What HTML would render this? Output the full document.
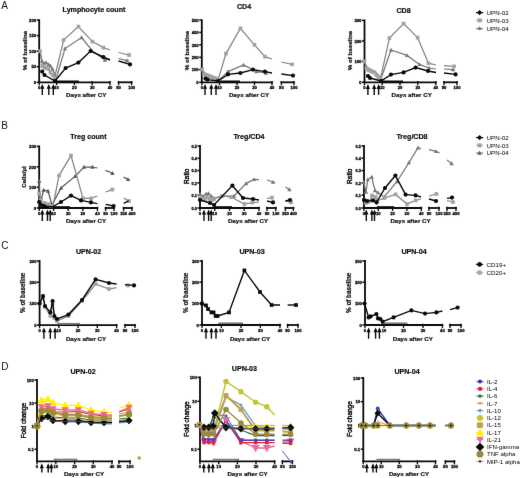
<!DOCTYPE html>
<html><head><meta charset="utf-8"><title>Figure</title>
<style>
html,body{margin:0;padding:0;background:#fff;}
body{width:520px;height:478px;overflow:hidden;}
svg{display:block;font-family:"Liberation Sans",sans-serif;}
</style></head><body>
<svg width="520" height="478" viewBox="0 0 520 478">
<defs><filter id="b" x="0" y="0" width="520" height="478" filterUnits="userSpaceOnUse" color-interpolation-filters="sRGB"><feConvolveMatrix order="3" kernelMatrix="0.0028 0.0470 0.0028 0.0470 0.8008 0.0470 0.0028 0.0470 0.0028" edgeMode="duplicate" preserveAlpha="true"/></filter></defs>
<rect width="520" height="478" fill="#fff"/>
<g filter="url(#b)">
<rect width="520" height="478" fill="#fff"/>
<text x="1.3" y="8.6" font-size="10" text-anchor="start" fill="#111">A</text>
<text x="1.3" y="129" font-size="10" text-anchor="start" fill="#111">B</text>
<text x="1.3" y="249.4" font-size="10" text-anchor="start" fill="#111">C</text>
<text x="1.3" y="369.8" font-size="10" text-anchor="start" fill="#111">D</text>
<line x1="39.2" y1="19.4" x2="39.2" y2="83.2" stroke="#0a0a0a" stroke-width="1.8"/>
<line x1="36.6" y1="20" x2="39.2" y2="20" stroke="#0a0a0a" stroke-width="1.5"/>
<text x="36.1" y="21.75" font-size="4.2" text-anchor="end" font-weight="bold" stroke="#0a0a0a" stroke-width="0.3" fill="#0a0a0a">200</text>
<line x1="36.6" y1="35.6" x2="39.2" y2="35.6" stroke="#0a0a0a" stroke-width="1.5"/>
<text x="36.1" y="37.35" font-size="4.2" text-anchor="end" font-weight="bold" stroke="#0a0a0a" stroke-width="0.3" fill="#0a0a0a">150</text>
<line x1="36.6" y1="51.2" x2="39.2" y2="51.2" stroke="#0a0a0a" stroke-width="1.5"/>
<text x="36.1" y="52.95" font-size="4.2" text-anchor="end" font-weight="bold" stroke="#0a0a0a" stroke-width="0.3" fill="#0a0a0a">100</text>
<line x1="36.6" y1="66.7" x2="39.2" y2="66.7" stroke="#0a0a0a" stroke-width="1.5"/>
<text x="36.1" y="68.45" font-size="4.2" text-anchor="end" font-weight="bold" stroke="#0a0a0a" stroke-width="0.3" fill="#0a0a0a">50</text>
<line x1="36.6" y1="82.3" x2="39.2" y2="82.3" stroke="#0a0a0a" stroke-width="1.5"/>
<text x="36.1" y="84.05" font-size="4.2" text-anchor="end" font-weight="bold" stroke="#0a0a0a" stroke-width="0.3" fill="#0a0a0a">0</text>
<line x1="38.3" y1="82.3" x2="110.9" y2="82.3" stroke="#0a0a0a" stroke-width="1.8"/>
<line x1="39.2" y1="81.1" x2="39.2" y2="85.2" stroke="#0a0a0a" stroke-width="1.35"/>
<text x="39.2" y="89.05" font-size="4.12" text-anchor="middle" font-weight="bold" stroke="#0a0a0a" stroke-width="0.3" fill="#0a0a0a">0</text>
<line x1="56.6" y1="81.1" x2="56.6" y2="85.2" stroke="#0a0a0a" stroke-width="1.35"/>
<text x="56.6" y="89.05" font-size="4.12" text-anchor="middle" font-weight="bold" stroke="#0a0a0a" stroke-width="0.3" fill="#0a0a0a">10</text>
<line x1="74.4" y1="81.1" x2="74.4" y2="85.2" stroke="#0a0a0a" stroke-width="1.35"/>
<text x="74.4" y="89.05" font-size="4.12" text-anchor="middle" font-weight="bold" stroke="#0a0a0a" stroke-width="0.3" fill="#0a0a0a">20</text>
<line x1="92.2" y1="81.1" x2="92.2" y2="85.2" stroke="#0a0a0a" stroke-width="1.35"/>
<text x="92.2" y="89.05" font-size="4.12" text-anchor="middle" font-weight="bold" stroke="#0a0a0a" stroke-width="0.3" fill="#0a0a0a">30</text>
<line x1="110" y1="81.1" x2="110" y2="85.2" stroke="#0a0a0a" stroke-width="1.35"/>
<text x="110" y="89.05" font-size="4.12" text-anchor="middle" font-weight="bold" stroke="#0a0a0a" stroke-width="0.3" fill="#0a0a0a">40</text>
<line x1="117.7" y1="82.3" x2="132.5" y2="82.3" stroke="#0a0a0a" stroke-width="1.8"/>
<line x1="118.6" y1="81.1" x2="118.6" y2="85.2" stroke="#0a0a0a" stroke-width="1.35"/>
<text x="118.6" y="89.05" font-size="4.12" text-anchor="middle" font-weight="bold" stroke="#0a0a0a" stroke-width="0.3" fill="#0a0a0a">90</text>
<line x1="131.6" y1="81.1" x2="131.6" y2="85.2" stroke="#0a0a0a" stroke-width="1.35"/>
<text x="131.6" y="89.05" font-size="4.12" text-anchor="middle" font-weight="bold" stroke="#0a0a0a" stroke-width="0.3" fill="#0a0a0a">100</text>
<line x1="56" y1="81.8" x2="79" y2="81.8" stroke="#0a0a0a" stroke-width="2.6"/>
<text x="94" y="11.7" font-size="7.1" text-anchor="middle" font-weight="bold" stroke="#111" stroke-width="0.22" fill="#111">Lymphocyte count</text>
<text x="26.6" y="50.5" font-size="6.2" text-anchor="middle" font-weight="bold" stroke="#111" stroke-width="0.22" transform="rotate(-90 26.6 50.5)" fill="#111">% of baseline</text>
<text x="86.2" y="96.8" font-size="6.2" text-anchor="middle" font-weight="bold" stroke="#111" stroke-width="0.22" fill="#111">Days after CY</text>
<line x1="42.3" y1="85.9" x2="42.3" y2="94.9" stroke="#0a0a0a" stroke-width="1.4"/>
<polygon fill="#0a0a0a" points="42.3,83.9 44.4,88.8 40.2,88.8"/>
<line x1="48.8" y1="85.9" x2="48.8" y2="94.9" stroke="#0a0a0a" stroke-width="1.4"/>
<polygon fill="#0a0a0a" points="48.8,83.9 50.9,88.8 46.7,88.8"/>
<line x1="53.3" y1="85.9" x2="53.3" y2="94.9" stroke="#0a0a0a" stroke-width="1.4"/>
<polygon fill="#0a0a0a" points="53.3,83.9 55.4,88.8 51.2,88.8"/>
<polyline fill="none" stroke="#787878" stroke-width="1.25" points="40,51.2 42,61 44,63.5 46,62.5 48.5,64.5 50.5,66 52.5,69 54.5,74 56,79 65,48.6 81.6,37.6 92.5,51 105,60 110,59"/>
<polyline fill="none" stroke="#787878" stroke-width="1.25" points="118.6,58.5 127,60.6 129,61"/>
<polygon fill="#787878" points="42,58.76 44.15,62.66 39.85,62.66"/>
<polygon fill="#787878" points="44,61.26 46.15,65.16 41.85,65.16"/>
<polygon fill="#787878" points="46,60.26 48.15,64.16 43.85,64.16"/>
<polygon fill="#787878" points="48.5,62.26 50.65,66.16 46.35,66.16"/>
<polygon fill="#787878" points="50.5,63.76 52.65,67.66 48.35,67.66"/>
<polygon fill="#787878" points="52.5,66.76 54.65,70.66 50.35,70.66"/>
<polygon fill="#787878" points="54.5,71.76 56.65,75.66 52.35,75.66"/>
<polygon fill="#787878" points="65,46.36 67.14,50.26 62.85,50.26"/>
<polygon fill="#787878" points="81.6,35.36 83.74,39.26 79.45,39.26"/>
<polygon fill="#787878" points="105,57.76 107.14,61.66 102.86,61.66"/>
<polygon fill="#787878" points="127,58.36 129.15,62.26 124.86,62.26"/>
<polyline fill="none" stroke="#858585" stroke-width="1.25" points="40,51.2 42.5,66 44.5,68 46.5,67.5 48.5,69 50.5,72.5 52.5,75 54.5,78 63.6,40 78.4,26.6 92.4,41.6 103.4,47.6 110,50"/>
<polyline fill="none" stroke="#858585" stroke-width="1.25" points="118.6,52.5 129,55"/>
<rect x="38.15" y="49.35" width="3.7" height="3.7" fill="#a2a2a2"/>
<rect x="40.65" y="64.15" width="3.7" height="3.7" fill="#a2a2a2"/>
<rect x="42.65" y="66.15" width="3.7" height="3.7" fill="#a2a2a2"/>
<rect x="44.65" y="65.65" width="3.7" height="3.7" fill="#a2a2a2"/>
<rect x="46.65" y="67.15" width="3.7" height="3.7" fill="#a2a2a2"/>
<rect x="48.65" y="70.65" width="3.7" height="3.7" fill="#a2a2a2"/>
<rect x="50.65" y="73.15" width="3.7" height="3.7" fill="#a2a2a2"/>
<rect x="52.65" y="76.15" width="3.7" height="3.7" fill="#a2a2a2"/>
<rect x="61.75" y="38.15" width="3.7" height="3.7" fill="#a2a2a2"/>
<rect x="76.55" y="24.75" width="3.7" height="3.7" fill="#a2a2a2"/>
<rect x="90.55" y="39.75" width="3.7" height="3.7" fill="#a2a2a2"/>
<rect x="101.55" y="45.75" width="3.7" height="3.7" fill="#a2a2a2"/>
<rect x="127.15" y="53.15" width="3.7" height="3.7" fill="#a2a2a2"/>
<polyline fill="none" stroke="#0a0a0a" stroke-width="1.4" points="42.2,71.5 44.5,75 55,81 65.6,68 78.4,62.6 90.6,51 103.4,57 110,60"/>
<polyline fill="none" stroke="#0a0a0a" stroke-width="1.4" points="118.6,61 130,64.4"/>
<circle cx="42.2" cy="71.5" r="2.08" fill="#0a0a0a"/>
<circle cx="44.5" cy="75" r="2.08" fill="#0a0a0a"/>
<circle cx="55" cy="81" r="2.08" fill="#0a0a0a"/>
<circle cx="65.6" cy="68" r="2.08" fill="#0a0a0a"/>
<circle cx="78.4" cy="62.6" r="2.08" fill="#0a0a0a"/>
<circle cx="90.6" cy="51" r="2.08" fill="#0a0a0a"/>
<circle cx="103.4" cy="57" r="2.08" fill="#0a0a0a"/>
<circle cx="130" cy="64.4" r="2.08" fill="#0a0a0a"/>
<line x1="201.8" y1="19.4" x2="201.8" y2="83.2" stroke="#0a0a0a" stroke-width="1.8"/>
<line x1="199.2" y1="20" x2="201.8" y2="20" stroke="#0a0a0a" stroke-width="1.5"/>
<text x="198.7" y="21.75" font-size="4.2" text-anchor="end" font-weight="bold" stroke="#0a0a0a" stroke-width="0.3" fill="#0a0a0a">500</text>
<line x1="199.2" y1="32.4" x2="201.8" y2="32.4" stroke="#0a0a0a" stroke-width="1.5"/>
<text x="198.7" y="34.15" font-size="4.2" text-anchor="end" font-weight="bold" stroke="#0a0a0a" stroke-width="0.3" fill="#0a0a0a">400</text>
<line x1="199.2" y1="44.8" x2="201.8" y2="44.8" stroke="#0a0a0a" stroke-width="1.5"/>
<text x="198.7" y="46.55" font-size="4.2" text-anchor="end" font-weight="bold" stroke="#0a0a0a" stroke-width="0.3" fill="#0a0a0a">300</text>
<line x1="199.2" y1="57.3" x2="201.8" y2="57.3" stroke="#0a0a0a" stroke-width="1.5"/>
<text x="198.7" y="59.05" font-size="4.2" text-anchor="end" font-weight="bold" stroke="#0a0a0a" stroke-width="0.3" fill="#0a0a0a">200</text>
<line x1="199.2" y1="69.6" x2="201.8" y2="69.6" stroke="#0a0a0a" stroke-width="1.5"/>
<text x="198.7" y="71.35" font-size="4.2" text-anchor="end" font-weight="bold" stroke="#0a0a0a" stroke-width="0.3" fill="#0a0a0a">100</text>
<line x1="199.2" y1="82.3" x2="201.8" y2="82.3" stroke="#0a0a0a" stroke-width="1.5"/>
<text x="198.7" y="84.05" font-size="4.2" text-anchor="end" font-weight="bold" stroke="#0a0a0a" stroke-width="0.3" fill="#0a0a0a">0</text>
<line x1="200.9" y1="82.3" x2="272.9" y2="82.3" stroke="#0a0a0a" stroke-width="1.8"/>
<line x1="201.8" y1="81.1" x2="201.8" y2="85.2" stroke="#0a0a0a" stroke-width="1.35"/>
<text x="201.8" y="89.05" font-size="4.12" text-anchor="middle" font-weight="bold" stroke="#0a0a0a" stroke-width="0.3" fill="#0a0a0a">0</text>
<line x1="219.5" y1="81.1" x2="219.5" y2="85.2" stroke="#0a0a0a" stroke-width="1.35"/>
<text x="219.5" y="89.05" font-size="4.12" text-anchor="middle" font-weight="bold" stroke="#0a0a0a" stroke-width="0.3" fill="#0a0a0a">10</text>
<line x1="237" y1="81.1" x2="237" y2="85.2" stroke="#0a0a0a" stroke-width="1.35"/>
<text x="237" y="89.05" font-size="4.12" text-anchor="middle" font-weight="bold" stroke="#0a0a0a" stroke-width="0.3" fill="#0a0a0a">20</text>
<line x1="254.5" y1="81.1" x2="254.5" y2="85.2" stroke="#0a0a0a" stroke-width="1.35"/>
<text x="254.5" y="89.05" font-size="4.12" text-anchor="middle" font-weight="bold" stroke="#0a0a0a" stroke-width="0.3" fill="#0a0a0a">30</text>
<line x1="272" y1="81.1" x2="272" y2="85.2" stroke="#0a0a0a" stroke-width="1.35"/>
<text x="272" y="89.05" font-size="4.12" text-anchor="middle" font-weight="bold" stroke="#0a0a0a" stroke-width="0.3" fill="#0a0a0a">40</text>
<line x1="280.5" y1="82.3" x2="294.9" y2="82.3" stroke="#0a0a0a" stroke-width="1.8"/>
<line x1="281.4" y1="81.1" x2="281.4" y2="85.2" stroke="#0a0a0a" stroke-width="1.35"/>
<text x="281.4" y="89.05" font-size="4.12" text-anchor="middle" font-weight="bold" stroke="#0a0a0a" stroke-width="0.3" fill="#0a0a0a">90</text>
<line x1="294" y1="81.1" x2="294" y2="85.2" stroke="#0a0a0a" stroke-width="1.35"/>
<text x="294" y="89.05" font-size="4.12" text-anchor="middle" font-weight="bold" stroke="#0a0a0a" stroke-width="0.3" fill="#0a0a0a">100</text>
<line x1="218" y1="81.8" x2="240" y2="81.8" stroke="#0a0a0a" stroke-width="2.6"/>
<text x="244" y="9.1" font-size="7.1" text-anchor="middle" font-weight="bold" stroke="#111" stroke-width="0.22" fill="#111">CD4</text>
<text x="189.4" y="50.5" font-size="6.2" text-anchor="middle" font-weight="bold" stroke="#111" stroke-width="0.22" transform="rotate(-90 189.4 50.5)" fill="#111">% of baseline</text>
<text x="249" y="96.8" font-size="6.2" text-anchor="middle" font-weight="bold" stroke="#111" stroke-width="0.22" fill="#111">Days after CY</text>
<line x1="205" y1="85.9" x2="205" y2="94.9" stroke="#0a0a0a" stroke-width="1.4"/>
<polygon fill="#0a0a0a" points="205,83.9 207.1,88.8 202.9,88.8"/>
<line x1="211.3" y1="85.9" x2="211.3" y2="94.9" stroke="#0a0a0a" stroke-width="1.4"/>
<polygon fill="#0a0a0a" points="211.3,83.9 213.4,88.8 209.2,88.8"/>
<line x1="216" y1="85.9" x2="216" y2="94.9" stroke="#0a0a0a" stroke-width="1.4"/>
<polygon fill="#0a0a0a" points="216,83.9 218.1,88.8 213.9,88.8"/>
<polyline fill="none" stroke="#787878" stroke-width="1.25" points="202,69.6 204,73 206,74.5 208,75 210,76 212,77 214,78 216,79 218.5,80.5 228,71.6 243.6,65 256.4,71.6 266,73"/>
<polygon fill="#787878" points="204,70.76 206.15,74.66 201.85,74.66"/>
<polygon fill="#787878" points="206,72.26 208.15,76.16 203.85,76.16"/>
<polygon fill="#787878" points="208,72.76 210.15,76.66 205.85,76.66"/>
<polygon fill="#787878" points="210,73.76 212.15,77.66 207.85,77.66"/>
<polygon fill="#787878" points="212,74.76 214.15,78.66 209.85,78.66"/>
<polygon fill="#787878" points="214,75.76 216.15,79.66 211.85,79.66"/>
<polygon fill="#787878" points="216,76.76 218.15,80.66 213.85,80.66"/>
<polygon fill="#787878" points="218.5,78.26 220.65,82.16 216.35,82.16"/>
<polygon fill="#787878" points="228,69.36 230.15,73.26 225.85,73.26"/>
<polygon fill="#787878" points="243.6,62.76 245.75,66.66 241.45,66.66"/>
<polygon fill="#787878" points="256.4,69.36 258.54,73.26 254.25,73.26"/>
<polygon fill="#787878" points="266,70.76 268.14,74.66 263.86,74.66"/>
<polyline fill="none" stroke="#858585" stroke-width="1.25" points="202,69.6 204,74 206,75 208,76 210,76.5 212,77 214,78 216,78.5 218,80 226,53.6 240.4,28.4 254.4,44.8 265,56.6 272,59"/>
<polyline fill="none" stroke="#858585" stroke-width="1.25" points="281.4,62 292,64.4"/>
<rect x="200.15" y="67.75" width="3.7" height="3.7" fill="#a2a2a2"/>
<rect x="202.15" y="72.15" width="3.7" height="3.7" fill="#a2a2a2"/>
<rect x="204.15" y="73.15" width="3.7" height="3.7" fill="#a2a2a2"/>
<rect x="206.15" y="74.15" width="3.7" height="3.7" fill="#a2a2a2"/>
<rect x="208.15" y="74.65" width="3.7" height="3.7" fill="#a2a2a2"/>
<rect x="210.15" y="75.15" width="3.7" height="3.7" fill="#a2a2a2"/>
<rect x="212.15" y="76.15" width="3.7" height="3.7" fill="#a2a2a2"/>
<rect x="214.15" y="76.65" width="3.7" height="3.7" fill="#a2a2a2"/>
<rect x="216.15" y="78.15" width="3.7" height="3.7" fill="#a2a2a2"/>
<rect x="224.15" y="51.75" width="3.7" height="3.7" fill="#a2a2a2"/>
<rect x="238.55" y="26.55" width="3.7" height="3.7" fill="#a2a2a2"/>
<rect x="252.55" y="42.95" width="3.7" height="3.7" fill="#a2a2a2"/>
<rect x="263.15" y="54.75" width="3.7" height="3.7" fill="#a2a2a2"/>
<rect x="290.15" y="62.55" width="3.7" height="3.7" fill="#a2a2a2"/>
<polyline fill="none" stroke="#0a0a0a" stroke-width="1.4" points="205.5,78.6 207.5,79.6 218,81 228,74.4 240.4,73 253,69.6 265,71.6 272,73"/>
<polyline fill="none" stroke="#0a0a0a" stroke-width="1.4" points="281.4,74 293,75.6"/>
<circle cx="205.5" cy="78.6" r="2.08" fill="#0a0a0a"/>
<circle cx="207.5" cy="79.6" r="2.08" fill="#0a0a0a"/>
<circle cx="218" cy="81" r="2.08" fill="#0a0a0a"/>
<circle cx="228" cy="74.4" r="2.08" fill="#0a0a0a"/>
<circle cx="240.4" cy="73" r="2.08" fill="#0a0a0a"/>
<circle cx="253" cy="69.6" r="2.08" fill="#0a0a0a"/>
<circle cx="265" cy="71.6" r="2.08" fill="#0a0a0a"/>
<circle cx="293" cy="75.6" r="2.08" fill="#0a0a0a"/>
<line x1="364.5" y1="19.6" x2="364.5" y2="83.2" stroke="#0a0a0a" stroke-width="1.8"/>
<line x1="361.9" y1="20.4" x2="364.5" y2="20.4" stroke="#0a0a0a" stroke-width="1.5"/>
<text x="361.4" y="22.15" font-size="4.2" text-anchor="end" font-weight="bold" stroke="#0a0a0a" stroke-width="0.3" fill="#0a0a0a">300</text>
<line x1="361.9" y1="41" x2="364.5" y2="41" stroke="#0a0a0a" stroke-width="1.5"/>
<text x="361.4" y="42.75" font-size="4.2" text-anchor="end" font-weight="bold" stroke="#0a0a0a" stroke-width="0.3" fill="#0a0a0a">200</text>
<line x1="361.9" y1="61.4" x2="364.5" y2="61.4" stroke="#0a0a0a" stroke-width="1.5"/>
<text x="361.4" y="63.15" font-size="4.2" text-anchor="end" font-weight="bold" stroke="#0a0a0a" stroke-width="0.3" fill="#0a0a0a">100</text>
<line x1="361.9" y1="82.3" x2="364.5" y2="82.3" stroke="#0a0a0a" stroke-width="1.5"/>
<text x="361.4" y="84.05" font-size="4.2" text-anchor="end" font-weight="bold" stroke="#0a0a0a" stroke-width="0.3" fill="#0a0a0a">0</text>
<line x1="363.6" y1="82.3" x2="436.7" y2="82.3" stroke="#0a0a0a" stroke-width="1.8"/>
<line x1="364.5" y1="81.1" x2="364.5" y2="85.2" stroke="#0a0a0a" stroke-width="1.35"/>
<text x="364.5" y="89.05" font-size="4.12" text-anchor="middle" font-weight="bold" stroke="#0a0a0a" stroke-width="0.3" fill="#0a0a0a">0</text>
<line x1="382.2" y1="81.1" x2="382.2" y2="85.2" stroke="#0a0a0a" stroke-width="1.35"/>
<text x="382.2" y="89.05" font-size="4.12" text-anchor="middle" font-weight="bold" stroke="#0a0a0a" stroke-width="0.3" fill="#0a0a0a">10</text>
<line x1="400" y1="81.1" x2="400" y2="85.2" stroke="#0a0a0a" stroke-width="1.35"/>
<text x="400" y="89.05" font-size="4.12" text-anchor="middle" font-weight="bold" stroke="#0a0a0a" stroke-width="0.3" fill="#0a0a0a">20</text>
<line x1="417.8" y1="81.1" x2="417.8" y2="85.2" stroke="#0a0a0a" stroke-width="1.35"/>
<text x="417.8" y="89.05" font-size="4.12" text-anchor="middle" font-weight="bold" stroke="#0a0a0a" stroke-width="0.3" fill="#0a0a0a">30</text>
<line x1="435.8" y1="81.1" x2="435.8" y2="85.2" stroke="#0a0a0a" stroke-width="1.35"/>
<text x="435.8" y="89.05" font-size="4.12" text-anchor="middle" font-weight="bold" stroke="#0a0a0a" stroke-width="0.3" fill="#0a0a0a">40</text>
<line x1="443.1" y1="82.3" x2="457.9" y2="82.3" stroke="#0a0a0a" stroke-width="1.8"/>
<line x1="444" y1="81.1" x2="444" y2="85.2" stroke="#0a0a0a" stroke-width="1.35"/>
<text x="444" y="89.05" font-size="4.12" text-anchor="middle" font-weight="bold" stroke="#0a0a0a" stroke-width="0.3" fill="#0a0a0a">90</text>
<line x1="457" y1="81.1" x2="457" y2="85.2" stroke="#0a0a0a" stroke-width="1.35"/>
<text x="457" y="89.05" font-size="4.12" text-anchor="middle" font-weight="bold" stroke="#0a0a0a" stroke-width="0.3" fill="#0a0a0a">100</text>
<line x1="381" y1="81.8" x2="403" y2="81.8" stroke="#0a0a0a" stroke-width="2.6"/>
<text x="403.6" y="12.6" font-size="7.1" text-anchor="middle" font-weight="bold" stroke="#111" stroke-width="0.22" fill="#111">CD8</text>
<text x="351.6" y="50.5" font-size="6.2" text-anchor="middle" font-weight="bold" stroke="#111" stroke-width="0.22" transform="rotate(-90 351.6 50.5)" fill="#111">% of baseline</text>
<text x="411.7" y="96.8" font-size="6.2" text-anchor="middle" font-weight="bold" stroke="#111" stroke-width="0.22" fill="#111">Days after CY</text>
<line x1="367.9" y1="86.1" x2="367.9" y2="94.9" stroke="#0a0a0a" stroke-width="1.4"/>
<polygon fill="#0a0a0a" points="367.9,84.1 370,89 365.8,89"/>
<line x1="374.2" y1="86.1" x2="374.2" y2="94.9" stroke="#0a0a0a" stroke-width="1.4"/>
<polygon fill="#0a0a0a" points="374.2,84.1 376.3,89 372.1,89"/>
<line x1="378.6" y1="86.1" x2="378.6" y2="94.9" stroke="#0a0a0a" stroke-width="1.4"/>
<polygon fill="#0a0a0a" points="378.6,84.1 380.7,89 376.5,89"/>
<polyline fill="none" stroke="#787878" stroke-width="1.25" points="364.4,61.4 366.5,67 368.5,69 370.5,70 372.5,71 374.5,72 376.5,74 378.5,76 381,78.5 391,50 407,55.4 419.4,64.4 429,68 436,69"/>
<polyline fill="none" stroke="#787878" stroke-width="1.25" points="444,69 453,69.6 455,70"/>
<polygon fill="#787878" points="366.5,64.76 368.64,68.66 364.36,68.66"/>
<polygon fill="#787878" points="368.5,66.76 370.64,70.66 366.36,70.66"/>
<polygon fill="#787878" points="370.5,67.76 372.64,71.66 368.36,71.66"/>
<polygon fill="#787878" points="372.5,68.76 374.64,72.66 370.36,72.66"/>
<polygon fill="#787878" points="374.5,69.76 376.64,73.66 372.36,73.66"/>
<polygon fill="#787878" points="376.5,71.76 378.64,75.66 374.36,75.66"/>
<polygon fill="#787878" points="378.5,73.76 380.64,77.66 376.36,77.66"/>
<polygon fill="#787878" points="381,76.26 383.14,80.16 378.86,80.16"/>
<polygon fill="#787878" points="391,47.76 393.14,51.66 388.86,51.66"/>
<polygon fill="#787878" points="407,53.16 409.14,57.06 404.86,57.06"/>
<polygon fill="#787878" points="419.4,62.16 421.54,66.06 417.25,66.06"/>
<polygon fill="#787878" points="429,65.76 431.14,69.66 426.86,69.66"/>
<polygon fill="#787878" points="453,67.36 455.14,71.26 450.86,71.26"/>
<polyline fill="none" stroke="#858585" stroke-width="1.25" points="364.4,61.4 366.5,68 368.5,70 370.5,71 372.5,72 374.5,72.5 376.5,75 378.5,77 380.5,78.5 389.4,38 403.6,23.6 417.6,37.6 428.4,63.2 436,65"/>
<polyline fill="none" stroke="#858585" stroke-width="1.25" points="444,65.6 454,66.4"/>
<rect x="362.55" y="59.55" width="3.7" height="3.7" fill="#a2a2a2"/>
<rect x="364.65" y="66.15" width="3.7" height="3.7" fill="#a2a2a2"/>
<rect x="366.65" y="68.15" width="3.7" height="3.7" fill="#a2a2a2"/>
<rect x="368.65" y="69.15" width="3.7" height="3.7" fill="#a2a2a2"/>
<rect x="370.65" y="70.15" width="3.7" height="3.7" fill="#a2a2a2"/>
<rect x="372.65" y="70.65" width="3.7" height="3.7" fill="#a2a2a2"/>
<rect x="374.65" y="73.15" width="3.7" height="3.7" fill="#a2a2a2"/>
<rect x="376.65" y="75.15" width="3.7" height="3.7" fill="#a2a2a2"/>
<rect x="378.65" y="76.65" width="3.7" height="3.7" fill="#a2a2a2"/>
<rect x="387.55" y="36.15" width="3.7" height="3.7" fill="#a2a2a2"/>
<rect x="401.75" y="21.75" width="3.7" height="3.7" fill="#a2a2a2"/>
<rect x="415.75" y="35.75" width="3.7" height="3.7" fill="#a2a2a2"/>
<rect x="426.55" y="61.35" width="3.7" height="3.7" fill="#a2a2a2"/>
<rect x="452.15" y="64.55" width="3.7" height="3.7" fill="#a2a2a2"/>
<polyline fill="none" stroke="#0a0a0a" stroke-width="1.4" points="368,76 370,78 381,81 391,74.6 403.6,72.4 415.6,67.6 428,71 436,72.5"/>
<polyline fill="none" stroke="#0a0a0a" stroke-width="1.4" points="444,73 455.6,74.4"/>
<circle cx="368" cy="76" r="2.08" fill="#0a0a0a"/>
<circle cx="370" cy="78" r="2.08" fill="#0a0a0a"/>
<circle cx="381" cy="81" r="2.08" fill="#0a0a0a"/>
<circle cx="391" cy="74.6" r="2.08" fill="#0a0a0a"/>
<circle cx="403.6" cy="72.4" r="2.08" fill="#0a0a0a"/>
<circle cx="415.6" cy="67.6" r="2.08" fill="#0a0a0a"/>
<circle cx="428" cy="71" r="2.08" fill="#0a0a0a"/>
<circle cx="455.6" cy="74.4" r="2.08" fill="#0a0a0a"/>
<line x1="476" y1="12.6" x2="483.2" y2="12.6" stroke="#0a0a0a" stroke-width="1.2"/>
<polygon fill="#0a0a0a" points="479.6,10.07 482.13,12.6 479.6,15.13 477.07,12.6"/>
<text x="486.6" y="14.8" font-size="6.2" text-anchor="start" transform="rotate(#0a0a0a 486.6 14.8)" fill="0.2">UPN-02</text>
<line x1="476" y1="20.4" x2="483.2" y2="20.4" stroke="#a2a2a2" stroke-width="0.9"/>
<rect x="477.6" y="18.4" width="4" height="4" fill="#a2a2a2"/>
<text x="486.6" y="22.6" font-size="6.2" text-anchor="start" transform="rotate(#0a0a0a 486.6 22.6)" fill="0.2">UPN-03</text>
<line x1="476" y1="28.4" x2="483.2" y2="28.4" stroke="#787878" stroke-width="0.9"/>
<polygon fill="#787878" points="479.6,26.1 481.8,30.1 477.4,30.1"/>
<text x="486.6" y="30.6" font-size="6.2" text-anchor="start" transform="rotate(#0a0a0a 486.6 30.6)" fill="0.2">UPN-04</text>
<line x1="39.2" y1="145.5" x2="39.2" y2="208.9" stroke="#0a0a0a" stroke-width="1.8"/>
<line x1="36.6" y1="146.4" x2="39.2" y2="146.4" stroke="#0a0a0a" stroke-width="1.5"/>
<text x="36.1" y="148.15" font-size="4.2" text-anchor="end" font-weight="bold" stroke="#0a0a0a" stroke-width="0.3" fill="#0a0a0a">300</text>
<line x1="36.6" y1="166.8" x2="39.2" y2="166.8" stroke="#0a0a0a" stroke-width="1.5"/>
<text x="36.1" y="168.55" font-size="4.2" text-anchor="end" font-weight="bold" stroke="#0a0a0a" stroke-width="0.3" fill="#0a0a0a">200</text>
<line x1="36.6" y1="187.2" x2="39.2" y2="187.2" stroke="#0a0a0a" stroke-width="1.5"/>
<text x="36.1" y="188.95" font-size="4.2" text-anchor="end" font-weight="bold" stroke="#0a0a0a" stroke-width="0.3" fill="#0a0a0a">100</text>
<line x1="36.6" y1="208" x2="39.2" y2="208" stroke="#0a0a0a" stroke-width="1.5"/>
<text x="36.1" y="209.75" font-size="4.2" text-anchor="end" font-weight="bold" stroke="#0a0a0a" stroke-width="0.3" fill="#0a0a0a">0</text>
<line x1="38.3" y1="208" x2="98.3" y2="208" stroke="#0a0a0a" stroke-width="1.8"/>
<line x1="39.2" y1="206.8" x2="39.2" y2="210.9" stroke="#0a0a0a" stroke-width="1.35"/>
<text x="39.2" y="214.75" font-size="4.12" text-anchor="middle" font-weight="bold" stroke="#0a0a0a" stroke-width="0.3" fill="#0a0a0a">0</text>
<line x1="53.6" y1="206.8" x2="53.6" y2="210.9" stroke="#0a0a0a" stroke-width="1.35"/>
<text x="53.6" y="214.75" font-size="4.12" text-anchor="middle" font-weight="bold" stroke="#0a0a0a" stroke-width="0.3" fill="#0a0a0a">10</text>
<line x1="68.2" y1="206.8" x2="68.2" y2="210.9" stroke="#0a0a0a" stroke-width="1.35"/>
<text x="68.2" y="214.75" font-size="4.12" text-anchor="middle" font-weight="bold" stroke="#0a0a0a" stroke-width="0.3" fill="#0a0a0a">20</text>
<line x1="82.8" y1="206.8" x2="82.8" y2="210.9" stroke="#0a0a0a" stroke-width="1.35"/>
<text x="82.8" y="214.75" font-size="4.12" text-anchor="middle" font-weight="bold" stroke="#0a0a0a" stroke-width="0.3" fill="#0a0a0a">30</text>
<line x1="97.4" y1="206.8" x2="97.4" y2="210.9" stroke="#0a0a0a" stroke-width="1.35"/>
<text x="97.4" y="214.75" font-size="4.12" text-anchor="middle" font-weight="bold" stroke="#0a0a0a" stroke-width="0.3" fill="#0a0a0a">40</text>
<line x1="104.7" y1="208" x2="114.9" y2="208" stroke="#0a0a0a" stroke-width="1.8"/>
<line x1="105.6" y1="206.8" x2="105.6" y2="210.9" stroke="#0a0a0a" stroke-width="1.35"/>
<text x="105.6" y="214.75" font-size="4.12" text-anchor="middle" font-weight="bold" stroke="#0a0a0a" stroke-width="0.3" fill="#0a0a0a">90</text>
<line x1="114" y1="206.8" x2="114" y2="210.9" stroke="#0a0a0a" stroke-width="1.35"/>
<text x="114" y="214.75" font-size="4.12" text-anchor="middle" font-weight="bold" stroke="#0a0a0a" stroke-width="0.3" fill="#0a0a0a">100</text>
<line x1="122.7" y1="208" x2="132.9" y2="208" stroke="#0a0a0a" stroke-width="1.8"/>
<line x1="123.6" y1="206.8" x2="123.6" y2="210.9" stroke="#0a0a0a" stroke-width="1.35"/>
<text x="123.6" y="214.75" font-size="4.12" text-anchor="middle" font-weight="bold" stroke="#0a0a0a" stroke-width="0.3" fill="#0a0a0a">350</text>
<line x1="132" y1="206.8" x2="132" y2="210.9" stroke="#0a0a0a" stroke-width="1.35"/>
<text x="132" y="214.75" font-size="4.12" text-anchor="middle" font-weight="bold" stroke="#0a0a0a" stroke-width="0.3" fill="#0a0a0a">400</text>
<line x1="52" y1="207.5" x2="70" y2="207.5" stroke="#0a0a0a" stroke-width="2.6"/>
<text x="88.4" y="138.7" font-size="7.1" text-anchor="middle" font-weight="bold" stroke="#111" stroke-width="0.22" fill="#111">Treg count</text>
<text x="26.2" y="177" font-size="6.1" text-anchor="middle" font-weight="bold" stroke="#111" stroke-width="0.22" transform="rotate(-90 26.2 177)" fill="#111">Cells/µl</text>
<text x="86" y="223.4" font-size="6.2" text-anchor="middle" font-weight="bold" stroke="#111" stroke-width="0.22" fill="#111">Days after CY</text>
<line x1="42.3" y1="211.6" x2="42.3" y2="220.9" stroke="#0a0a0a" stroke-width="1.4"/>
<polygon fill="#0a0a0a" points="42.3,209.6 44.4,214.5 40.2,214.5"/>
<line x1="47.5" y1="211.6" x2="47.5" y2="220.9" stroke="#0a0a0a" stroke-width="1.4"/>
<polygon fill="#0a0a0a" points="47.5,209.6 49.6,214.5 45.4,214.5"/>
<line x1="50.2" y1="211.6" x2="50.2" y2="220.9" stroke="#0a0a0a" stroke-width="1.4"/>
<polygon fill="#0a0a0a" points="50.2,209.6 52.3,214.5 48.1,214.5"/>
<polyline fill="none" stroke="#5a5a5a" stroke-width="1.25" points="39.2,181 40,205 43.6,190 48,191 52,205 61,188 75,176.4 84,167 92.4,167 97.4,168"/>
<polyline fill="none" stroke="#5a5a5a" stroke-width="1.25" points="105.6,170.4 112.4,173.3 114,174"/>
<polyline fill="none" stroke="#5a5a5a" stroke-width="1.25" points="123.6,177 128,179.4 129.4,180.2"/>
<polygon fill="#5a5a5a" points="39.2,178.76 41.35,182.66 37.05,182.66"/>
<polygon fill="#5a5a5a" points="43.6,187.76 45.75,191.66 41.45,191.66"/>
<polygon fill="#5a5a5a" points="48,188.76 50.15,192.66 45.85,192.66"/>
<polygon fill="#5a5a5a" points="61,185.76 63.15,189.66 58.85,189.66"/>
<polygon fill="#5a5a5a" points="75,174.16 77.14,178.06 72.86,178.06"/>
<polygon fill="#5a5a5a" points="84,164.76 86.14,168.66 81.86,168.66"/>
<polygon fill="#5a5a5a" points="92.4,164.76 94.55,168.66 90.26,168.66"/>
<polygon fill="#5a5a5a" points="112.4,171.06 114.55,174.96 110.26,174.96"/>
<polygon fill="#5a5a5a" points="128,177.16 130.15,181.06 125.86,181.06"/>
<polyline fill="none" stroke="#858585" stroke-width="1.25" points="39.2,193.6 41,200 43,204 45,203 47,205 49,204 51,206 53,206 59,175.6 71,155.6 83,198.4 91,198.4 97.4,196"/>
<polyline fill="none" stroke="#858585" stroke-width="1.25" points="105.6,192 112.4,189.6"/>
<polyline fill="none" stroke="#858585" stroke-width="1.25" points="123.6,198 129,201"/>
<rect x="37.35" y="191.75" width="3.7" height="3.7" fill="#a2a2a2"/>
<rect x="39.15" y="198.15" width="3.7" height="3.7" fill="#a2a2a2"/>
<rect x="41.15" y="202.15" width="3.7" height="3.7" fill="#a2a2a2"/>
<rect x="43.15" y="201.15" width="3.7" height="3.7" fill="#a2a2a2"/>
<rect x="45.15" y="203.15" width="3.7" height="3.7" fill="#a2a2a2"/>
<rect x="47.15" y="202.15" width="3.7" height="3.7" fill="#a2a2a2"/>
<rect x="49.15" y="204.15" width="3.7" height="3.7" fill="#a2a2a2"/>
<rect x="57.15" y="173.75" width="3.7" height="3.7" fill="#a2a2a2"/>
<rect x="69.15" y="153.75" width="3.7" height="3.7" fill="#a2a2a2"/>
<rect x="81.15" y="196.55" width="3.7" height="3.7" fill="#a2a2a2"/>
<rect x="89.15" y="196.55" width="3.7" height="3.7" fill="#a2a2a2"/>
<rect x="110.55" y="187.75" width="3.7" height="3.7" fill="#a2a2a2"/>
<rect x="127.15" y="199.15" width="3.7" height="3.7" fill="#a2a2a2"/>
<polyline fill="none" stroke="#0a0a0a" stroke-width="1.4" points="39.2,202 41,205 44,206 52,207 61,202 71,195.6 81,200.4 91,202.4 97.4,203.6"/>
<polyline fill="none" stroke="#0a0a0a" stroke-width="1.4" points="105.6,204.4 113.6,206"/>
<polyline fill="none" stroke="#0a0a0a" stroke-width="1.4" points="123.6,203.4 128.6,200.9"/>
<circle cx="39.2" cy="202" r="2.08" fill="#0a0a0a"/>
<circle cx="41" cy="205" r="2.08" fill="#0a0a0a"/>
<circle cx="44" cy="206" r="2.08" fill="#0a0a0a"/>
<circle cx="61" cy="202" r="2.08" fill="#0a0a0a"/>
<circle cx="71" cy="195.6" r="2.08" fill="#0a0a0a"/>
<circle cx="81" cy="200.4" r="2.08" fill="#0a0a0a"/>
<circle cx="91" cy="202.4" r="2.08" fill="#0a0a0a"/>
<circle cx="113.6" cy="206" r="2.08" fill="#0a0a0a"/>
<line x1="200" y1="145.1" x2="200" y2="208.9" stroke="#0a0a0a" stroke-width="1.8"/>
<line x1="197.4" y1="146" x2="200" y2="146" stroke="#0a0a0a" stroke-width="1.5"/>
<text x="196.9" y="147.75" font-size="3.8" text-anchor="end" font-weight="bold" stroke="#0a0a0a" stroke-width="0.3" fill="#0a0a0a">0.5</text>
<line x1="197.4" y1="158.3" x2="200" y2="158.3" stroke="#0a0a0a" stroke-width="1.5"/>
<text x="196.9" y="160.05" font-size="3.8" text-anchor="end" font-weight="bold" stroke="#0a0a0a" stroke-width="0.3" fill="#0a0a0a">0.4</text>
<line x1="197.4" y1="170.6" x2="200" y2="170.6" stroke="#0a0a0a" stroke-width="1.5"/>
<text x="196.9" y="172.35" font-size="3.8" text-anchor="end" font-weight="bold" stroke="#0a0a0a" stroke-width="0.3" fill="#0a0a0a">0.3</text>
<line x1="197.4" y1="182.9" x2="200" y2="182.9" stroke="#0a0a0a" stroke-width="1.5"/>
<text x="196.9" y="184.65" font-size="3.8" text-anchor="end" font-weight="bold" stroke="#0a0a0a" stroke-width="0.3" fill="#0a0a0a">0.2</text>
<line x1="197.4" y1="195.2" x2="200" y2="195.2" stroke="#0a0a0a" stroke-width="1.5"/>
<text x="196.9" y="196.95" font-size="3.8" text-anchor="end" font-weight="bold" stroke="#0a0a0a" stroke-width="0.3" fill="#0a0a0a">0.1</text>
<line x1="197.4" y1="208" x2="200" y2="208" stroke="#0a0a0a" stroke-width="1.5"/>
<text x="196.9" y="209.75" font-size="3.8" text-anchor="end" font-weight="bold" stroke="#0a0a0a" stroke-width="0.3" fill="#0a0a0a">0.0</text>
<line x1="199.1" y1="208" x2="259.9" y2="208" stroke="#0a0a0a" stroke-width="1.8"/>
<line x1="200" y1="206.8" x2="200" y2="210.9" stroke="#0a0a0a" stroke-width="1.35"/>
<text x="200" y="214.75" font-size="4.2" text-anchor="middle" font-weight="bold" stroke="#0a0a0a" stroke-width="0.3" fill="#0a0a0a">0</text>
<line x1="214.7" y1="206.8" x2="214.7" y2="210.9" stroke="#0a0a0a" stroke-width="1.35"/>
<text x="214.7" y="214.75" font-size="4.2" text-anchor="middle" font-weight="bold" stroke="#0a0a0a" stroke-width="0.3" fill="#0a0a0a">10</text>
<line x1="229.5" y1="206.8" x2="229.5" y2="210.9" stroke="#0a0a0a" stroke-width="1.35"/>
<text x="229.5" y="214.75" font-size="4.2" text-anchor="middle" font-weight="bold" stroke="#0a0a0a" stroke-width="0.3" fill="#0a0a0a">20</text>
<line x1="244.2" y1="206.8" x2="244.2" y2="210.9" stroke="#0a0a0a" stroke-width="1.35"/>
<text x="244.2" y="214.75" font-size="4.2" text-anchor="middle" font-weight="bold" stroke="#0a0a0a" stroke-width="0.3" fill="#0a0a0a">30</text>
<line x1="259" y1="206.8" x2="259" y2="210.9" stroke="#0a0a0a" stroke-width="1.35"/>
<text x="259" y="214.75" font-size="4.2" text-anchor="middle" font-weight="bold" stroke="#0a0a0a" stroke-width="0.3" fill="#0a0a0a">40</text>
<line x1="266.1" y1="208" x2="276.7" y2="208" stroke="#0a0a0a" stroke-width="1.8"/>
<line x1="267" y1="206.8" x2="267" y2="210.9" stroke="#0a0a0a" stroke-width="1.35"/>
<text x="267" y="214.75" font-size="4.2" text-anchor="middle" font-weight="bold" stroke="#0a0a0a" stroke-width="0.3" fill="#0a0a0a">90</text>
<line x1="275.8" y1="206.8" x2="275.8" y2="210.9" stroke="#0a0a0a" stroke-width="1.35"/>
<text x="275.8" y="214.75" font-size="4.2" text-anchor="middle" font-weight="bold" stroke="#0a0a0a" stroke-width="0.3" fill="#0a0a0a">100</text>
<line x1="284.5" y1="208" x2="294.3" y2="208" stroke="#0a0a0a" stroke-width="1.8"/>
<line x1="285.4" y1="206.8" x2="285.4" y2="210.9" stroke="#0a0a0a" stroke-width="1.35"/>
<text x="285.4" y="214.75" font-size="4.2" text-anchor="middle" font-weight="bold" stroke="#0a0a0a" stroke-width="0.3" fill="#0a0a0a">350</text>
<line x1="293.4" y1="206.8" x2="293.4" y2="210.9" stroke="#0a0a0a" stroke-width="1.35"/>
<text x="293.4" y="214.75" font-size="4.2" text-anchor="middle" font-weight="bold" stroke="#0a0a0a" stroke-width="0.3" fill="#0a0a0a">400</text>
<line x1="214" y1="207.5" x2="232" y2="207.5" stroke="#0a0a0a" stroke-width="2.6"/>
<text x="249" y="138.7" font-size="7.1" text-anchor="middle" font-weight="bold" stroke="#111" stroke-width="0.22" fill="#111">Treg/CD4</text>
<text x="189.2" y="176.3" font-size="6.5" text-anchor="middle" stroke="#0a0a0a" stroke-width="0.4" transform="rotate(-90 189.2 176.3)" fill="#0a0a0a">Ratio</text>
<text x="248" y="223.4" font-size="6.2" text-anchor="middle" font-weight="bold" stroke="#111" stroke-width="0.22" fill="#111">Days after CY</text>
<line x1="204" y1="211.6" x2="204" y2="220.9" stroke="#0a0a0a" stroke-width="1.4"/>
<polygon fill="#0a0a0a" points="204,209.6 206.1,214.5 201.9,214.5"/>
<line x1="208.6" y1="211.6" x2="208.6" y2="220.9" stroke="#0a0a0a" stroke-width="1.4"/>
<polygon fill="#0a0a0a" points="208.6,209.6 210.7,214.5 206.5,214.5"/>
<line x1="211.2" y1="211.6" x2="211.2" y2="220.9" stroke="#0a0a0a" stroke-width="1.4"/>
<polygon fill="#0a0a0a" points="211.2,209.6 213.3,214.5 209.1,214.5"/>
<polyline fill="none" stroke="#787878" stroke-width="1.25" points="200,194 203,196.5 206,194 208.4,193.4 211,196 214,198 222,196 234,196 246,183.6 254,179.4 259,179.6"/>
<polyline fill="none" stroke="#787878" stroke-width="1.25" points="267,180 273,182 275,182.6"/>
<polyline fill="none" stroke="#787878" stroke-width="1.25" points="285.4,187 289.4,189.6 290.6,190.4"/>
<polygon fill="#787878" points="200,191.76 202.15,195.66 197.85,195.66"/>
<polygon fill="#787878" points="203,194.26 205.15,198.16 200.85,198.16"/>
<polygon fill="#787878" points="206,191.76 208.15,195.66 203.85,195.66"/>
<polygon fill="#787878" points="208.4,191.16 210.55,195.06 206.25,195.06"/>
<polygon fill="#787878" points="211,193.76 213.15,197.66 208.85,197.66"/>
<polygon fill="#787878" points="214,195.76 216.15,199.66 211.85,199.66"/>
<polygon fill="#787878" points="222,193.76 224.15,197.66 219.85,197.66"/>
<polygon fill="#787878" points="234,193.76 236.15,197.66 231.85,197.66"/>
<polygon fill="#787878" points="246,181.36 248.15,185.26 243.85,185.26"/>
<polygon fill="#787878" points="254,177.16 256.14,181.06 251.85,181.06"/>
<polygon fill="#787878" points="273,179.76 275.14,183.66 270.86,183.66"/>
<polygon fill="#787878" points="289.4,187.36 291.54,191.26 287.25,191.26"/>
<polyline fill="none" stroke="#858585" stroke-width="1.25" points="200,197 202.5,199 205,200 207,197 209.5,199 212,200 214,199 222,196 231,197 244.4,204 252.4,202.6 259,202"/>
<polyline fill="none" stroke="#858585" stroke-width="1.25" points="267,198.5 272,197.6"/>
<polyline fill="none" stroke="#858585" stroke-width="1.25" points="285.4,201 291,202.4"/>
<rect x="198.15" y="195.15" width="3.7" height="3.7" fill="#a2a2a2"/>
<rect x="200.65" y="197.15" width="3.7" height="3.7" fill="#a2a2a2"/>
<rect x="203.15" y="198.15" width="3.7" height="3.7" fill="#a2a2a2"/>
<rect x="205.15" y="195.15" width="3.7" height="3.7" fill="#a2a2a2"/>
<rect x="207.65" y="197.15" width="3.7" height="3.7" fill="#a2a2a2"/>
<rect x="210.15" y="198.15" width="3.7" height="3.7" fill="#a2a2a2"/>
<rect x="212.15" y="197.15" width="3.7" height="3.7" fill="#a2a2a2"/>
<rect x="220.15" y="194.15" width="3.7" height="3.7" fill="#a2a2a2"/>
<rect x="229.15" y="195.15" width="3.7" height="3.7" fill="#a2a2a2"/>
<rect x="242.55" y="202.15" width="3.7" height="3.7" fill="#a2a2a2"/>
<rect x="250.55" y="200.75" width="3.7" height="3.7" fill="#a2a2a2"/>
<rect x="270.15" y="195.75" width="3.7" height="3.7" fill="#a2a2a2"/>
<rect x="289.15" y="200.55" width="3.7" height="3.7" fill="#a2a2a2"/>
<polyline fill="none" stroke="#0a0a0a" stroke-width="1.4" points="200,200 210,203 214,205 232.4,185.6 243,198 253,199 259,200"/>
<polyline fill="none" stroke="#0a0a0a" stroke-width="1.4" points="267,201 273,202.4"/>
<polyline fill="none" stroke="#0a0a0a" stroke-width="1.4" points="285.4,201 290,200"/>
<circle cx="200" cy="200" r="2.08" fill="#0a0a0a"/>
<circle cx="210" cy="203" r="2.08" fill="#0a0a0a"/>
<circle cx="214" cy="205" r="2.08" fill="#0a0a0a"/>
<circle cx="232.4" cy="185.6" r="2.08" fill="#0a0a0a"/>
<circle cx="243" cy="198" r="2.08" fill="#0a0a0a"/>
<circle cx="253" cy="199" r="2.08" fill="#0a0a0a"/>
<circle cx="273" cy="202.4" r="2.08" fill="#0a0a0a"/>
<circle cx="290" cy="200" r="2.08" fill="#0a0a0a"/>
<line x1="364" y1="145.1" x2="364" y2="208.9" stroke="#0a0a0a" stroke-width="1.8"/>
<line x1="361.4" y1="146" x2="364" y2="146" stroke="#0a0a0a" stroke-width="1.5"/>
<text x="360.9" y="147.75" font-size="3.8" text-anchor="end" font-weight="bold" stroke="#0a0a0a" stroke-width="0.3" fill="#0a0a0a">0.5</text>
<line x1="361.4" y1="158.3" x2="364" y2="158.3" stroke="#0a0a0a" stroke-width="1.5"/>
<text x="360.9" y="160.05" font-size="3.8" text-anchor="end" font-weight="bold" stroke="#0a0a0a" stroke-width="0.3" fill="#0a0a0a">0.4</text>
<line x1="361.4" y1="170.6" x2="364" y2="170.6" stroke="#0a0a0a" stroke-width="1.5"/>
<text x="360.9" y="172.35" font-size="3.8" text-anchor="end" font-weight="bold" stroke="#0a0a0a" stroke-width="0.3" fill="#0a0a0a">0.3</text>
<line x1="361.4" y1="182.9" x2="364" y2="182.9" stroke="#0a0a0a" stroke-width="1.5"/>
<text x="360.9" y="184.65" font-size="3.8" text-anchor="end" font-weight="bold" stroke="#0a0a0a" stroke-width="0.3" fill="#0a0a0a">0.2</text>
<line x1="361.4" y1="195.2" x2="364" y2="195.2" stroke="#0a0a0a" stroke-width="1.5"/>
<text x="360.9" y="196.95" font-size="3.8" text-anchor="end" font-weight="bold" stroke="#0a0a0a" stroke-width="0.3" fill="#0a0a0a">0.1</text>
<line x1="361.4" y1="208" x2="364" y2="208" stroke="#0a0a0a" stroke-width="1.5"/>
<text x="360.9" y="209.75" font-size="3.8" text-anchor="end" font-weight="bold" stroke="#0a0a0a" stroke-width="0.3" fill="#0a0a0a">0.0</text>
<line x1="363.1" y1="208" x2="422.2" y2="208" stroke="#0a0a0a" stroke-width="1.8"/>
<line x1="364" y1="206.8" x2="364" y2="210.9" stroke="#0a0a0a" stroke-width="1.35"/>
<text x="364" y="214.75" font-size="4.2" text-anchor="middle" font-weight="bold" stroke="#0a0a0a" stroke-width="0.3" fill="#0a0a0a">0</text>
<line x1="378.3" y1="206.8" x2="378.3" y2="210.9" stroke="#0a0a0a" stroke-width="1.35"/>
<text x="378.3" y="214.75" font-size="4.2" text-anchor="middle" font-weight="bold" stroke="#0a0a0a" stroke-width="0.3" fill="#0a0a0a">10</text>
<line x1="392.6" y1="206.8" x2="392.6" y2="210.9" stroke="#0a0a0a" stroke-width="1.35"/>
<text x="392.6" y="214.75" font-size="4.2" text-anchor="middle" font-weight="bold" stroke="#0a0a0a" stroke-width="0.3" fill="#0a0a0a">20</text>
<line x1="406.9" y1="206.8" x2="406.9" y2="210.9" stroke="#0a0a0a" stroke-width="1.35"/>
<text x="406.9" y="214.75" font-size="4.2" text-anchor="middle" font-weight="bold" stroke="#0a0a0a" stroke-width="0.3" fill="#0a0a0a">30</text>
<line x1="421.3" y1="206.8" x2="421.3" y2="210.9" stroke="#0a0a0a" stroke-width="1.35"/>
<text x="421.3" y="214.75" font-size="4.2" text-anchor="middle" font-weight="bold" stroke="#0a0a0a" stroke-width="0.3" fill="#0a0a0a">40</text>
<line x1="428.1" y1="208" x2="439.9" y2="208" stroke="#0a0a0a" stroke-width="1.8"/>
<line x1="429" y1="206.8" x2="429" y2="210.9" stroke="#0a0a0a" stroke-width="1.35"/>
<text x="429" y="214.75" font-size="4.2" text-anchor="middle" font-weight="bold" stroke="#0a0a0a" stroke-width="0.3" fill="#0a0a0a">90</text>
<line x1="439" y1="206.8" x2="439" y2="210.9" stroke="#0a0a0a" stroke-width="1.35"/>
<text x="439" y="214.75" font-size="4.2" text-anchor="middle" font-weight="bold" stroke="#0a0a0a" stroke-width="0.3" fill="#0a0a0a">100</text>
<line x1="446.1" y1="208" x2="456.9" y2="208" stroke="#0a0a0a" stroke-width="1.8"/>
<line x1="447" y1="206.8" x2="447" y2="210.9" stroke="#0a0a0a" stroke-width="1.35"/>
<text x="447" y="214.75" font-size="4.2" text-anchor="middle" font-weight="bold" stroke="#0a0a0a" stroke-width="0.3" fill="#0a0a0a">350</text>
<line x1="456" y1="206.8" x2="456" y2="210.9" stroke="#0a0a0a" stroke-width="1.35"/>
<text x="456" y="214.75" font-size="4.2" text-anchor="middle" font-weight="bold" stroke="#0a0a0a" stroke-width="0.3" fill="#0a0a0a">400</text>
<line x1="377" y1="207.5" x2="394" y2="207.5" stroke="#0a0a0a" stroke-width="2.6"/>
<text x="412" y="138.7" font-size="7.1" text-anchor="middle" font-weight="bold" stroke="#111" stroke-width="0.22" fill="#111">Treg/CD8</text>
<text x="351.8" y="176.3" font-size="6.5" text-anchor="middle" stroke="#0a0a0a" stroke-width="0.4" transform="rotate(-90 351.8 176.3)" fill="#0a0a0a">Ratio</text>
<text x="410.5" y="223.4" font-size="6.2" text-anchor="middle" font-weight="bold" stroke="#111" stroke-width="0.22" fill="#111">Days after CY</text>
<line x1="366.3" y1="211.6" x2="366.3" y2="220.9" stroke="#0a0a0a" stroke-width="1.4"/>
<polygon fill="#0a0a0a" points="366.3,209.6 368.4,214.5 364.2,214.5"/>
<line x1="371.9" y1="211.6" x2="371.9" y2="220.9" stroke="#0a0a0a" stroke-width="1.4"/>
<polygon fill="#0a0a0a" points="371.9,209.6 374,214.5 369.8,214.5"/>
<line x1="374.5" y1="211.6" x2="374.5" y2="220.9" stroke="#0a0a0a" stroke-width="1.4"/>
<polygon fill="#0a0a0a" points="374.5,209.6 376.6,214.5 372.4,214.5"/>
<polyline fill="none" stroke="#787878" stroke-width="1.25" points="363.6,182 366,192 367.8,179.5 371.7,177 373.6,185 375,190.5 378,192.7 384.2,197 397,181.5 409,162.6 418,147.8 421,148.5"/>
<polyline fill="none" stroke="#787878" stroke-width="1.25" points="429,149.6 436,151.4 439.6,153"/>
<polyline fill="none" stroke="#787878" stroke-width="1.25" points="447,160 451.6,163.6 453,165"/>
<polygon fill="#787878" points="363.6,179.76 365.75,183.66 361.46,183.66"/>
<polygon fill="#787878" points="366,189.76 368.14,193.66 363.86,193.66"/>
<polygon fill="#787878" points="367.8,177.26 369.94,181.16 365.66,181.16"/>
<polygon fill="#787878" points="371.7,174.76 373.84,178.66 369.56,178.66"/>
<polygon fill="#787878" points="375,188.26 377.14,192.16 372.86,192.16"/>
<polygon fill="#787878" points="378,190.46 380.14,194.36 375.86,194.36"/>
<polygon fill="#787878" points="384.2,194.76 386.34,198.66 382.06,198.66"/>
<polygon fill="#787878" points="397,179.26 399.14,183.16 394.86,183.16"/>
<polygon fill="#787878" points="409,160.36 411.14,164.26 406.86,164.26"/>
<polygon fill="#787878" points="418,145.56 420.14,149.46 415.86,149.46"/>
<polygon fill="#787878" points="436,149.16 438.14,153.06 433.86,153.06"/>
<polygon fill="#787878" points="451.6,161.36 453.75,165.26 449.46,165.26"/>
<polyline fill="none" stroke="#858585" stroke-width="1.25" points="364,200 366,203 368,202 370,201 372,195.6 375.6,197 377,201 384.4,198 395.6,194.4 407,204 415.6,200.4 421,199"/>
<polyline fill="none" stroke="#858585" stroke-width="1.25" points="429,196 436.4,194"/>
<polyline fill="none" stroke="#858585" stroke-width="1.25" points="447,200.5 453,202"/>
<rect x="362.15" y="198.15" width="3.7" height="3.7" fill="#a2a2a2"/>
<rect x="364.15" y="201.15" width="3.7" height="3.7" fill="#a2a2a2"/>
<rect x="366.15" y="200.15" width="3.7" height="3.7" fill="#a2a2a2"/>
<rect x="368.15" y="199.15" width="3.7" height="3.7" fill="#a2a2a2"/>
<rect x="370.15" y="193.75" width="3.7" height="3.7" fill="#a2a2a2"/>
<rect x="373.75" y="195.15" width="3.7" height="3.7" fill="#a2a2a2"/>
<rect x="375.15" y="199.15" width="3.7" height="3.7" fill="#a2a2a2"/>
<rect x="382.55" y="196.15" width="3.7" height="3.7" fill="#a2a2a2"/>
<rect x="393.75" y="192.55" width="3.7" height="3.7" fill="#a2a2a2"/>
<rect x="405.15" y="202.15" width="3.7" height="3.7" fill="#a2a2a2"/>
<rect x="413.75" y="198.55" width="3.7" height="3.7" fill="#a2a2a2"/>
<rect x="434.55" y="192.15" width="3.7" height="3.7" fill="#a2a2a2"/>
<rect x="451.15" y="200.15" width="3.7" height="3.7" fill="#a2a2a2"/>
<polyline fill="none" stroke="#0a0a0a" stroke-width="1.4" points="364,200 367,201 373,200.4 376.6,202.4 385,188 395.4,175.6 405.6,194.6 415.6,195.4 421,197"/>
<polyline fill="none" stroke="#0a0a0a" stroke-width="1.4" points="429,199 436,201"/>
<polyline fill="none" stroke="#0a0a0a" stroke-width="1.4" points="447,198.4 452,197.6"/>
<circle cx="364" cy="200" r="2.08" fill="#0a0a0a"/>
<circle cx="367" cy="201" r="2.08" fill="#0a0a0a"/>
<circle cx="373" cy="200.4" r="2.08" fill="#0a0a0a"/>
<circle cx="376.6" cy="202.4" r="2.08" fill="#0a0a0a"/>
<circle cx="385" cy="188" r="2.08" fill="#0a0a0a"/>
<circle cx="395.4" cy="175.6" r="2.08" fill="#0a0a0a"/>
<circle cx="405.6" cy="194.6" r="2.08" fill="#0a0a0a"/>
<circle cx="415.6" cy="195.4" r="2.08" fill="#0a0a0a"/>
<circle cx="436" cy="201" r="2.08" fill="#0a0a0a"/>
<circle cx="452" cy="197.6" r="2.08" fill="#0a0a0a"/>
<line x1="476" y1="137.6" x2="483.2" y2="137.6" stroke="#0a0a0a" stroke-width="1.2"/>
<polygon fill="#0a0a0a" points="479.6,135.07 482.13,137.6 479.6,140.13 477.07,137.6"/>
<text x="486.6" y="139.8" font-size="6.2" text-anchor="start" transform="rotate(#0a0a0a 486.6 139.8)" fill="0.2">UPN-02</text>
<line x1="476" y1="145.4" x2="483.2" y2="145.4" stroke="#a2a2a2" stroke-width="0.9"/>
<rect x="477.6" y="143.4" width="4" height="4" fill="#a2a2a2"/>
<text x="486.6" y="147.6" font-size="6.2" text-anchor="start" transform="rotate(#0a0a0a 486.6 147.6)" fill="0.2">UPN-03</text>
<line x1="476" y1="153" x2="483.2" y2="153" stroke="#5a5a5a" stroke-width="0.9"/>
<polygon fill="#5a5a5a" points="479.6,150.7 481.8,154.7 477.4,154.7"/>
<text x="486.6" y="155.2" font-size="6.2" text-anchor="start" transform="rotate(#0a0a0a 486.6 155.2)" fill="0.2">UPN-04</text>
<line x1="39.6" y1="260.1" x2="39.6" y2="326" stroke="#0a0a0a" stroke-width="1.8"/>
<line x1="37" y1="261" x2="39.6" y2="261" stroke="#0a0a0a" stroke-width="1.5"/>
<text x="36.5" y="262.75" font-size="4.2" text-anchor="end" font-weight="bold" stroke="#0a0a0a" stroke-width="0.3" fill="#0a0a0a">300</text>
<line x1="37" y1="282.2" x2="39.6" y2="282.2" stroke="#0a0a0a" stroke-width="1.5"/>
<text x="36.5" y="283.95" font-size="4.2" text-anchor="end" font-weight="bold" stroke="#0a0a0a" stroke-width="0.3" fill="#0a0a0a">200</text>
<line x1="37" y1="303.5" x2="39.6" y2="303.5" stroke="#0a0a0a" stroke-width="1.5"/>
<text x="36.5" y="305.25" font-size="4.2" text-anchor="end" font-weight="bold" stroke="#0a0a0a" stroke-width="0.3" fill="#0a0a0a">100</text>
<line x1="37" y1="325.1" x2="39.6" y2="325.1" stroke="#0a0a0a" stroke-width="1.5"/>
<text x="36.5" y="326.85" font-size="4.2" text-anchor="end" font-weight="bold" stroke="#0a0a0a" stroke-width="0.3" fill="#0a0a0a">0</text>
<line x1="38.7" y1="325.1" x2="117.5" y2="325.1" stroke="#0a0a0a" stroke-width="1.8"/>
<line x1="39.6" y1="323.9" x2="39.6" y2="328" stroke="#0a0a0a" stroke-width="1.35"/>
<text x="39.6" y="331.85" font-size="4.12" text-anchor="middle" font-weight="bold" stroke="#0a0a0a" stroke-width="0.3" fill="#0a0a0a">0</text>
<line x1="58.8" y1="323.9" x2="58.8" y2="328" stroke="#0a0a0a" stroke-width="1.35"/>
<text x="58.8" y="331.85" font-size="4.12" text-anchor="middle" font-weight="bold" stroke="#0a0a0a" stroke-width="0.3" fill="#0a0a0a">10</text>
<line x1="78" y1="323.9" x2="78" y2="328" stroke="#0a0a0a" stroke-width="1.35"/>
<text x="78" y="331.85" font-size="4.12" text-anchor="middle" font-weight="bold" stroke="#0a0a0a" stroke-width="0.3" fill="#0a0a0a">20</text>
<line x1="97.3" y1="323.9" x2="97.3" y2="328" stroke="#0a0a0a" stroke-width="1.35"/>
<text x="97.3" y="331.85" font-size="4.12" text-anchor="middle" font-weight="bold" stroke="#0a0a0a" stroke-width="0.3" fill="#0a0a0a">30</text>
<line x1="116.6" y1="323.9" x2="116.6" y2="328" stroke="#0a0a0a" stroke-width="1.35"/>
<text x="116.6" y="331.85" font-size="4.12" text-anchor="middle" font-weight="bold" stroke="#0a0a0a" stroke-width="0.3" fill="#0a0a0a">40</text>
<line x1="124.1" y1="325.1" x2="135.9" y2="325.1" stroke="#0a0a0a" stroke-width="1.8"/>
<line x1="125" y1="323.9" x2="125" y2="328" stroke="#0a0a0a" stroke-width="1.35"/>
<text x="125" y="331.85" font-size="4.12" text-anchor="middle" font-weight="bold" stroke="#0a0a0a" stroke-width="0.3" fill="#0a0a0a">90</text>
<line x1="135" y1="323.9" x2="135" y2="328" stroke="#0a0a0a" stroke-width="1.35"/>
<text x="135" y="331.85" font-size="4.12" text-anchor="middle" font-weight="bold" stroke="#0a0a0a" stroke-width="0.3" fill="#0a0a0a">100</text>
<line x1="57.4" y1="323.7" x2="80" y2="323.7" stroke="#7c7c7c" stroke-width="1.6"/>
<text x="88.6" y="253.7" font-size="7.1" text-anchor="middle" font-weight="bold" stroke="#111" stroke-width="0.22" fill="#111">UPN-02</text>
<text x="25.4" y="292.8" font-size="6.3" text-anchor="middle" font-weight="bold" stroke="#111" stroke-width="0.22" transform="rotate(-90 25.4 292.8)" fill="#111">% of baseline</text>
<text x="86" y="341.3" font-size="6.2" text-anchor="middle" font-weight="bold" stroke="#111" stroke-width="0.22" fill="#111">Days after CY</text>
<line x1="43.9" y1="329.4" x2="43.9" y2="338.7" stroke="#0a0a0a" stroke-width="1.4"/>
<polygon fill="#0a0a0a" points="43.9,327.4 46,332.3 41.8,332.3"/>
<line x1="50.3" y1="329.4" x2="50.3" y2="338.7" stroke="#0a0a0a" stroke-width="1.4"/>
<polygon fill="#0a0a0a" points="50.3,327.4 52.4,332.3 48.2,332.3"/>
<line x1="55.1" y1="329.4" x2="55.1" y2="338.7" stroke="#0a0a0a" stroke-width="1.4"/>
<polygon fill="#0a0a0a" points="55.1,327.4 57.2,332.3 53,332.3"/>
<polyline fill="none" stroke="#858585" stroke-width="1.25" points="39.6,303.6 43,297 45,307 50.4,316 52.6,303 54.4,318 57,321 68.4,316 82,301 95.6,284 109,289 116.6,287.6"/>
<polyline fill="none" stroke="#858585" stroke-width="1.25" points="125,285 128,285.4"/>
<rect x="37.75" y="301.75" width="3.7" height="3.7" fill="#a2a2a2"/>
<rect x="41.15" y="295.15" width="3.7" height="3.7" fill="#a2a2a2"/>
<rect x="43.15" y="305.15" width="3.7" height="3.7" fill="#a2a2a2"/>
<rect x="48.55" y="314.15" width="3.7" height="3.7" fill="#a2a2a2"/>
<rect x="50.75" y="301.15" width="3.7" height="3.7" fill="#a2a2a2"/>
<rect x="52.55" y="316.15" width="3.7" height="3.7" fill="#a2a2a2"/>
<rect x="55.15" y="319.15" width="3.7" height="3.7" fill="#a2a2a2"/>
<rect x="66.55" y="314.15" width="3.7" height="3.7" fill="#a2a2a2"/>
<rect x="80.15" y="299.15" width="3.7" height="3.7" fill="#a2a2a2"/>
<rect x="93.75" y="282.15" width="3.7" height="3.7" fill="#a2a2a2"/>
<rect x="107.15" y="287.15" width="3.7" height="3.7" fill="#a2a2a2"/>
<rect x="126.15" y="283.55" width="3.7" height="3.7" fill="#a2a2a2"/>
<polyline fill="none" stroke="#0a0a0a" stroke-width="1.4" points="39.6,303.6 43,296 45,306 50.4,312.4 52.6,301 54.4,316 57,319 68.4,314.6 82,300 95.6,279.4 109,283 116.6,284"/>
<polyline fill="none" stroke="#0a0a0a" stroke-width="1.4" points="125,284.6 134,285.4"/>
<circle cx="39.6" cy="303.6" r="2.08" fill="#0a0a0a"/>
<circle cx="43" cy="296" r="2.08" fill="#0a0a0a"/>
<circle cx="45" cy="306" r="2.08" fill="#0a0a0a"/>
<circle cx="50.4" cy="312.4" r="2.08" fill="#0a0a0a"/>
<circle cx="52.6" cy="301" r="2.08" fill="#0a0a0a"/>
<circle cx="54.4" cy="316" r="2.08" fill="#0a0a0a"/>
<circle cx="57" cy="319" r="2.08" fill="#0a0a0a"/>
<circle cx="68.4" cy="314.6" r="2.08" fill="#0a0a0a"/>
<circle cx="82" cy="300" r="2.08" fill="#0a0a0a"/>
<circle cx="95.6" cy="279.4" r="2.08" fill="#0a0a0a"/>
<circle cx="109" cy="283" r="2.08" fill="#0a0a0a"/>
<circle cx="134" cy="285.4" r="2.08" fill="#0a0a0a"/>
<line x1="202" y1="260.1" x2="202" y2="325.9" stroke="#0a0a0a" stroke-width="1.8"/>
<line x1="199.4" y1="261" x2="202" y2="261" stroke="#0a0a0a" stroke-width="1.5"/>
<text x="198.9" y="262.75" font-size="4.2" text-anchor="end" font-weight="bold" stroke="#0a0a0a" stroke-width="0.3" fill="#0a0a0a">300</text>
<line x1="199.4" y1="282.2" x2="202" y2="282.2" stroke="#0a0a0a" stroke-width="1.5"/>
<text x="198.9" y="283.95" font-size="4.2" text-anchor="end" font-weight="bold" stroke="#0a0a0a" stroke-width="0.3" fill="#0a0a0a">200</text>
<line x1="199.4" y1="303.5" x2="202" y2="303.5" stroke="#0a0a0a" stroke-width="1.5"/>
<text x="198.9" y="305.25" font-size="4.2" text-anchor="end" font-weight="bold" stroke="#0a0a0a" stroke-width="0.3" fill="#0a0a0a">100</text>
<line x1="199.4" y1="325" x2="202" y2="325" stroke="#0a0a0a" stroke-width="1.5"/>
<text x="198.9" y="326.75" font-size="4.2" text-anchor="end" font-weight="bold" stroke="#0a0a0a" stroke-width="0.3" fill="#0a0a0a">0</text>
<line x1="201.1" y1="325" x2="280.9" y2="325" stroke="#0a0a0a" stroke-width="1.8"/>
<line x1="202" y1="323.8" x2="202" y2="327.9" stroke="#0a0a0a" stroke-width="1.35"/>
<text x="202" y="331.75" font-size="4.12" text-anchor="middle" font-weight="bold" stroke="#0a0a0a" stroke-width="0.3" fill="#0a0a0a">0</text>
<line x1="221.4" y1="323.8" x2="221.4" y2="327.9" stroke="#0a0a0a" stroke-width="1.35"/>
<text x="221.4" y="331.75" font-size="4.12" text-anchor="middle" font-weight="bold" stroke="#0a0a0a" stroke-width="0.3" fill="#0a0a0a">10</text>
<line x1="241" y1="323.8" x2="241" y2="327.9" stroke="#0a0a0a" stroke-width="1.35"/>
<text x="241" y="331.75" font-size="4.12" text-anchor="middle" font-weight="bold" stroke="#0a0a0a" stroke-width="0.3" fill="#0a0a0a">20</text>
<line x1="260.4" y1="323.8" x2="260.4" y2="327.9" stroke="#0a0a0a" stroke-width="1.35"/>
<text x="260.4" y="331.75" font-size="4.12" text-anchor="middle" font-weight="bold" stroke="#0a0a0a" stroke-width="0.3" fill="#0a0a0a">30</text>
<line x1="280" y1="323.8" x2="280" y2="327.9" stroke="#0a0a0a" stroke-width="1.35"/>
<text x="280" y="331.75" font-size="4.12" text-anchor="middle" font-weight="bold" stroke="#0a0a0a" stroke-width="0.3" fill="#0a0a0a">40</text>
<line x1="286.7" y1="325" x2="298.9" y2="325" stroke="#0a0a0a" stroke-width="1.8"/>
<line x1="287.6" y1="323.8" x2="287.6" y2="327.9" stroke="#0a0a0a" stroke-width="1.35"/>
<text x="287.6" y="331.75" font-size="4.12" text-anchor="middle" font-weight="bold" stroke="#0a0a0a" stroke-width="0.3" fill="#0a0a0a">90</text>
<line x1="298" y1="323.8" x2="298" y2="327.9" stroke="#0a0a0a" stroke-width="1.35"/>
<text x="298" y="331.75" font-size="4.12" text-anchor="middle" font-weight="bold" stroke="#0a0a0a" stroke-width="0.3" fill="#0a0a0a">100</text>
<line x1="218.3" y1="323.2" x2="243" y2="323.2" stroke="#7c7c7c" stroke-width="1.6"/>
<text x="252" y="253.7" font-size="7.1" text-anchor="middle" font-weight="bold" stroke="#111" stroke-width="0.22" fill="#111">UPN-03</text>
<text x="188.5" y="292.8" font-size="6.3" text-anchor="middle" font-weight="bold" stroke="#111" stroke-width="0.22" transform="rotate(-90 188.5 292.8)" fill="#111">% of baseline</text>
<text x="250" y="341.3" font-size="6.2" text-anchor="middle" font-weight="bold" stroke="#111" stroke-width="0.22" fill="#111">Days after CY</text>
<line x1="206" y1="329.4" x2="206" y2="338.7" stroke="#0a0a0a" stroke-width="1.4"/>
<polygon fill="#0a0a0a" points="206,327.4 208.1,332.3 203.9,332.3"/>
<line x1="211.4" y1="329.4" x2="211.4" y2="338.7" stroke="#0a0a0a" stroke-width="1.4"/>
<polygon fill="#0a0a0a" points="211.4,327.4 213.5,332.3 209.3,332.3"/>
<line x1="216" y1="329.4" x2="216" y2="338.7" stroke="#0a0a0a" stroke-width="1.4"/>
<polygon fill="#0a0a0a" points="216,327.4 218.1,332.3 213.9,332.3"/>
<polyline fill="none" stroke="#0a0a0a" stroke-width="1.4" points="202,303.6 206,305.4 208,309 211.4,312.4 213.6,312.4 215.6,316 217.6,316 229,312.4 244.4,270.4 260,292 271.6,305 280,305"/>
<polyline fill="none" stroke="#0a0a0a" stroke-width="1.4" points="287.6,305 296,305"/>
<rect x="200.15" y="301.75" width="3.7" height="3.7" fill="#0a0a0a"/>
<rect x="204.15" y="303.55" width="3.7" height="3.7" fill="#0a0a0a"/>
<rect x="206.15" y="307.15" width="3.7" height="3.7" fill="#0a0a0a"/>
<rect x="209.55" y="310.55" width="3.7" height="3.7" fill="#0a0a0a"/>
<rect x="211.75" y="310.55" width="3.7" height="3.7" fill="#0a0a0a"/>
<rect x="213.75" y="314.15" width="3.7" height="3.7" fill="#0a0a0a"/>
<rect x="215.75" y="314.15" width="3.7" height="3.7" fill="#0a0a0a"/>
<rect x="227.15" y="310.55" width="3.7" height="3.7" fill="#0a0a0a"/>
<rect x="242.55" y="268.55" width="3.7" height="3.7" fill="#0a0a0a"/>
<rect x="258.15" y="290.15" width="3.7" height="3.7" fill="#0a0a0a"/>
<rect x="269.75" y="303.15" width="3.7" height="3.7" fill="#0a0a0a"/>
<rect x="294.15" y="303.15" width="3.7" height="3.7" fill="#0a0a0a"/>
<line x1="365" y1="260.1" x2="365" y2="325.9" stroke="#0a0a0a" stroke-width="1.8"/>
<line x1="362.4" y1="261" x2="365" y2="261" stroke="#0a0a0a" stroke-width="1.5"/>
<text x="361.9" y="262.75" font-size="4.2" text-anchor="end" font-weight="bold" stroke="#0a0a0a" stroke-width="0.3" fill="#0a0a0a">300</text>
<line x1="362.4" y1="282.2" x2="365" y2="282.2" stroke="#0a0a0a" stroke-width="1.5"/>
<text x="361.9" y="283.95" font-size="4.2" text-anchor="end" font-weight="bold" stroke="#0a0a0a" stroke-width="0.3" fill="#0a0a0a">200</text>
<line x1="362.4" y1="303.5" x2="365" y2="303.5" stroke="#0a0a0a" stroke-width="1.5"/>
<text x="361.9" y="305.25" font-size="4.2" text-anchor="end" font-weight="bold" stroke="#0a0a0a" stroke-width="0.3" fill="#0a0a0a">100</text>
<line x1="362.4" y1="325" x2="365" y2="325" stroke="#0a0a0a" stroke-width="1.5"/>
<text x="361.9" y="326.75" font-size="4.2" text-anchor="end" font-weight="bold" stroke="#0a0a0a" stroke-width="0.3" fill="#0a0a0a">0</text>
<line x1="364.1" y1="325" x2="443.3" y2="325" stroke="#0a0a0a" stroke-width="1.8"/>
<line x1="365" y1="323.8" x2="365" y2="327.9" stroke="#0a0a0a" stroke-width="1.35"/>
<text x="365" y="331.75" font-size="4.12" text-anchor="middle" font-weight="bold" stroke="#0a0a0a" stroke-width="0.3" fill="#0a0a0a">0</text>
<line x1="384" y1="323.8" x2="384" y2="327.9" stroke="#0a0a0a" stroke-width="1.35"/>
<text x="384" y="331.75" font-size="4.12" text-anchor="middle" font-weight="bold" stroke="#0a0a0a" stroke-width="0.3" fill="#0a0a0a">10</text>
<line x1="403.5" y1="323.8" x2="403.5" y2="327.9" stroke="#0a0a0a" stroke-width="1.35"/>
<text x="403.5" y="331.75" font-size="4.12" text-anchor="middle" font-weight="bold" stroke="#0a0a0a" stroke-width="0.3" fill="#0a0a0a">20</text>
<line x1="423" y1="323.8" x2="423" y2="327.9" stroke="#0a0a0a" stroke-width="1.35"/>
<text x="423" y="331.75" font-size="4.12" text-anchor="middle" font-weight="bold" stroke="#0a0a0a" stroke-width="0.3" fill="#0a0a0a">30</text>
<line x1="442.4" y1="323.8" x2="442.4" y2="327.9" stroke="#0a0a0a" stroke-width="1.35"/>
<text x="442.4" y="331.75" font-size="4.12" text-anchor="middle" font-weight="bold" stroke="#0a0a0a" stroke-width="0.3" fill="#0a0a0a">40</text>
<line x1="449.1" y1="325" x2="461.9" y2="325" stroke="#0a0a0a" stroke-width="1.8"/>
<line x1="450" y1="323.8" x2="450" y2="327.9" stroke="#0a0a0a" stroke-width="1.35"/>
<text x="450" y="331.75" font-size="4.12" text-anchor="middle" font-weight="bold" stroke="#0a0a0a" stroke-width="0.3" fill="#0a0a0a">90</text>
<line x1="461" y1="323.8" x2="461" y2="327.9" stroke="#0a0a0a" stroke-width="1.35"/>
<text x="461" y="331.75" font-size="4.12" text-anchor="middle" font-weight="bold" stroke="#0a0a0a" stroke-width="0.3" fill="#0a0a0a">100</text>
<line x1="381" y1="323.2" x2="407.4" y2="323.2" stroke="#7c7c7c" stroke-width="1.6"/>
<text x="414" y="253.7" font-size="7.1" text-anchor="middle" font-weight="bold" stroke="#111" stroke-width="0.22" fill="#111">UPN-04</text>
<text x="351.3" y="292.8" font-size="6.3" text-anchor="middle" font-weight="bold" stroke="#111" stroke-width="0.22" transform="rotate(-90 351.3 292.8)" fill="#111">% of baseline</text>
<text x="412.8" y="341.3" font-size="6.2" text-anchor="middle" font-weight="bold" stroke="#111" stroke-width="0.22" fill="#111">Days after CY</text>
<line x1="368.6" y1="329.4" x2="368.6" y2="338.7" stroke="#0a0a0a" stroke-width="1.4"/>
<polygon fill="#0a0a0a" points="368.6,327.4 370.7,332.3 366.5,332.3"/>
<line x1="375.6" y1="329.4" x2="375.6" y2="338.7" stroke="#0a0a0a" stroke-width="1.4"/>
<polygon fill="#0a0a0a" points="375.6,327.4 377.7,332.3 373.5,332.3"/>
<line x1="379.4" y1="329.4" x2="379.4" y2="338.7" stroke="#0a0a0a" stroke-width="1.4"/>
<polygon fill="#0a0a0a" points="379.4,327.4 381.5,332.3 377.3,332.3"/>
<polyline fill="none" stroke="#0a0a0a" stroke-width="1.4" points="364.6,303.6 368.6,317.4 370.6,316.4 376.4,314 378,318.4 380.4,319 382.6,321.6 393.6,317.4 411.4,310.4 425,313.6 436.4,312.4 442.4,311"/>
<polyline fill="none" stroke="#0a0a0a" stroke-width="1.4" points="450,309.6 457.6,307.6"/>
<circle cx="364.6" cy="303.6" r="2.08" fill="#0a0a0a"/>
<circle cx="368.6" cy="317.4" r="2.08" fill="#0a0a0a"/>
<circle cx="370.6" cy="316.4" r="2.08" fill="#0a0a0a"/>
<circle cx="376.4" cy="314" r="2.08" fill="#0a0a0a"/>
<circle cx="378" cy="318.4" r="2.08" fill="#0a0a0a"/>
<circle cx="380.4" cy="319" r="2.08" fill="#0a0a0a"/>
<circle cx="382.6" cy="321.6" r="2.08" fill="#0a0a0a"/>
<circle cx="393.6" cy="317.4" r="2.08" fill="#0a0a0a"/>
<circle cx="411.4" cy="310.4" r="2.08" fill="#0a0a0a"/>
<circle cx="425" cy="313.6" r="2.08" fill="#0a0a0a"/>
<circle cx="436.4" cy="312.4" r="2.08" fill="#0a0a0a"/>
<circle cx="457.6" cy="307.6" r="2.08" fill="#0a0a0a"/>
<line x1="476" y1="264.4" x2="483.2" y2="264.4" stroke="#0a0a0a" stroke-width="1.2"/>
<circle cx="479.6" cy="264.4" r="2.3" fill="#0a0a0a"/>
<text x="486.6" y="266.6" font-size="6.2" text-anchor="start" transform="rotate(#0a0a0a 486.6 266.6)" fill="0.2">CD19+</text>
<line x1="476" y1="272.6" x2="483.2" y2="272.6" stroke="#a2a2a2" stroke-width="0.9"/>
<rect x="477.5" y="270.5" width="4.2" height="4.2" fill="#a2a2a2"/>
<text x="486.6" y="274.8" font-size="6.2" text-anchor="start" transform="rotate(#0a0a0a 486.6 274.8)" fill="0.2">CD20+</text>
<line x1="37" y1="379.1" x2="37" y2="462.3" stroke="#0a0a0a" stroke-width="1.8"/>
<line x1="34.4" y1="380" x2="37" y2="380" stroke="#0a0a0a" stroke-width="1.5"/>
<text x="33.9" y="381.75" font-size="4.3" text-anchor="end" font-weight="bold" stroke="#0a0a0a" stroke-width="0.3" fill="#0a0a0a">100</text>
<line x1="34.4" y1="403" x2="37" y2="403" stroke="#0a0a0a" stroke-width="1.5"/>
<text x="33.9" y="404.75" font-size="4.3" text-anchor="end" font-weight="bold" stroke="#0a0a0a" stroke-width="0.3" fill="#0a0a0a">10</text>
<line x1="34.4" y1="426" x2="37" y2="426" stroke="#0a0a0a" stroke-width="1.5"/>
<text x="33.9" y="427.75" font-size="4.3" text-anchor="end" font-weight="bold" stroke="#0a0a0a" stroke-width="0.3" fill="#0a0a0a">1</text>
<line x1="34.4" y1="449.3" x2="37" y2="449.3" stroke="#0a0a0a" stroke-width="1.5"/>
<text x="33.9" y="451.05" font-size="4.3" text-anchor="end" font-weight="bold" stroke="#0a0a0a" stroke-width="0.3" fill="#0a0a0a">0.1</text>
<line x1="36.1" y1="461.4" x2="112.9" y2="461.4" stroke="#0a0a0a" stroke-width="1.8"/>
<line x1="37" y1="460.2" x2="37" y2="464.3" stroke="#0a0a0a" stroke-width="1.35"/>
<text x="37" y="468.15" font-size="4.21" text-anchor="middle" font-weight="bold" stroke="#0a0a0a" stroke-width="0.3" fill="#0a0a0a">0</text>
<line x1="55.8" y1="460.2" x2="55.8" y2="464.3" stroke="#0a0a0a" stroke-width="1.35"/>
<text x="55.8" y="468.15" font-size="4.21" text-anchor="middle" font-weight="bold" stroke="#0a0a0a" stroke-width="0.3" fill="#0a0a0a">10</text>
<line x1="74.6" y1="460.2" x2="74.6" y2="464.3" stroke="#0a0a0a" stroke-width="1.35"/>
<text x="74.6" y="468.15" font-size="4.21" text-anchor="middle" font-weight="bold" stroke="#0a0a0a" stroke-width="0.3" fill="#0a0a0a">20</text>
<line x1="93.3" y1="460.2" x2="93.3" y2="464.3" stroke="#0a0a0a" stroke-width="1.35"/>
<text x="93.3" y="468.15" font-size="4.21" text-anchor="middle" font-weight="bold" stroke="#0a0a0a" stroke-width="0.3" fill="#0a0a0a">30</text>
<line x1="112" y1="460.2" x2="112" y2="464.3" stroke="#0a0a0a" stroke-width="1.35"/>
<text x="112" y="468.15" font-size="4.21" text-anchor="middle" font-weight="bold" stroke="#0a0a0a" stroke-width="0.3" fill="#0a0a0a">40</text>
<line x1="118.1" y1="461.4" x2="130.9" y2="461.4" stroke="#0a0a0a" stroke-width="1.8"/>
<line x1="119" y1="460.2" x2="119" y2="464.3" stroke="#0a0a0a" stroke-width="1.35"/>
<text x="119" y="468.15" font-size="4.21" text-anchor="middle" font-weight="bold" stroke="#0a0a0a" stroke-width="0.3" fill="#0a0a0a">90</text>
<line x1="130" y1="460.2" x2="130" y2="464.3" stroke="#0a0a0a" stroke-width="1.35"/>
<text x="130" y="468.15" font-size="4.21" text-anchor="middle" font-weight="bold" stroke="#0a0a0a" stroke-width="0.3" fill="#0a0a0a">100</text>
<line x1="53.6" y1="459.5" x2="77.5" y2="459.5" stroke="#7c7c7c" stroke-width="1.7"/>
<text x="83" y="373.7" font-size="7.1" text-anchor="middle" font-weight="bold" stroke="#111" stroke-width="0.22" fill="#111">UPN-02</text>
<text x="25.9" y="420.6" font-size="6.45" text-anchor="middle" stroke="#0a0a0a" stroke-width="0.38" transform="rotate(-90 25.9 420.6)" fill="#0a0a0a">Fold change</text>
<text x="84" y="476" font-size="6.2" text-anchor="middle" font-weight="bold" stroke="#111" stroke-width="0.22" fill="#111">Days after CY</text>
<line x1="41.8" y1="465.3" x2="41.8" y2="472.6" stroke="#0a0a0a" stroke-width="1.4"/>
<polygon fill="#0a0a0a" points="41.8,463.3 43.9,468.2 39.7,468.2"/>
<line x1="48.2" y1="465.3" x2="48.2" y2="472.6" stroke="#0a0a0a" stroke-width="1.4"/>
<polygon fill="#0a0a0a" points="48.2,463.3 50.3,468.2 46.1,468.2"/>
<line x1="51.4" y1="465.3" x2="51.4" y2="472.6" stroke="#0a0a0a" stroke-width="1.4"/>
<polygon fill="#0a0a0a" points="51.4,463.3 53.5,468.2 49.3,468.2"/>
<polyline fill="none" stroke="#2b3a9a" stroke-width="1" points="37,426 41.5,418 47.9,416 53,421 65.2,420 78.4,420 91,422 104,423 112,423"/>
<polyline fill="none" stroke="#2b3a9a" stroke-width="1" points="119,422 129,421"/>
<circle cx="37" cy="426" r="1.4" fill="#2b3a9a"/>
<circle cx="41.5" cy="418" r="1.4" fill="#2b3a9a"/>
<circle cx="47.9" cy="416" r="1.4" fill="#2b3a9a"/>
<circle cx="53" cy="421" r="1.4" fill="#2b3a9a"/>
<circle cx="65.2" cy="420" r="1.4" fill="#2b3a9a"/>
<circle cx="78.4" cy="420" r="1.4" fill="#2b3a9a"/>
<circle cx="91" cy="422" r="1.4" fill="#2b3a9a"/>
<circle cx="104" cy="423" r="1.4" fill="#2b3a9a"/>
<circle cx="129" cy="421" r="1.4" fill="#2b3a9a"/>
<polyline fill="none" stroke="#e0213a" stroke-width="1.2" points="37,426 41.5,409 47.9,409 53,412 65.2,412 78.4,411.5 91,414.5 104,416 112,416"/>
<polyline fill="none" stroke="#e0213a" stroke-width="1.2" points="119,412 129,409"/>
<rect x="35.5" y="424.5" width="3" height="3" fill="#e0213a"/>
<rect x="40" y="407.5" width="3" height="3" fill="#e0213a"/>
<rect x="46.4" y="407.5" width="3" height="3" fill="#e0213a"/>
<rect x="51.5" y="410.5" width="3" height="3" fill="#e0213a"/>
<rect x="63.7" y="410.5" width="3" height="3" fill="#e0213a"/>
<rect x="76.9" y="410" width="3" height="3" fill="#e0213a"/>
<rect x="89.5" y="413" width="3" height="3" fill="#e0213a"/>
<rect x="102.5" y="414.5" width="3" height="3" fill="#e0213a"/>
<rect x="127.5" y="407.5" width="3" height="3" fill="#e0213a"/>
<polyline fill="none" stroke="#1f6b3a" stroke-width="1" points="37,426 41.5,416 47.9,415 53,417 65.2,418 78.4,418 91,420 104,420 112,420"/>
<polyline fill="none" stroke="#1f6b3a" stroke-width="1" points="119,419 129,418"/>
<polygon fill="#1f6b3a" points="37,424.27 38.65,427.27 35.35,427.27"/>
<polygon fill="#1f6b3a" points="41.5,414.27 43.15,417.27 39.85,417.27"/>
<polygon fill="#1f6b3a" points="47.9,413.27 49.55,416.27 46.25,416.27"/>
<polygon fill="#1f6b3a" points="53,415.27 54.65,418.27 51.35,418.27"/>
<polygon fill="#1f6b3a" points="65.2,416.27 66.85,419.27 63.55,419.27"/>
<polygon fill="#1f6b3a" points="78.4,416.27 80.05,419.27 76.75,419.27"/>
<polygon fill="#1f6b3a" points="91,418.27 92.65,421.27 89.35,421.27"/>
<polygon fill="#1f6b3a" points="104,418.27 105.65,421.27 102.35,421.27"/>
<polygon fill="#1f6b3a" points="129,416.27 130.65,419.27 127.35,419.27"/>
<polyline fill="none" stroke="#e09a50" stroke-width="0.9" points="37,426 41.5,417 47.9,416 53,418 65.2,419 78.4,419 91,421 104,421 112,421"/>
<polyline fill="none" stroke="#e09a50" stroke-width="0.9" points="119,420 129,419"/>
<polygon fill="#e09a50" points="37,424.39 38.54,427.19 35.46,427.19"/>
<polygon fill="#e09a50" points="41.5,415.39 43.04,418.19 39.96,418.19"/>
<polygon fill="#e09a50" points="47.9,414.39 49.44,417.19 46.36,417.19"/>
<polygon fill="#e09a50" points="53,416.39 54.54,419.19 51.46,419.19"/>
<polygon fill="#e09a50" points="65.2,417.39 66.74,420.19 63.66,420.19"/>
<polygon fill="#e09a50" points="78.4,417.39 79.94,420.19 76.86,420.19"/>
<polygon fill="#e09a50" points="91,419.39 92.54,422.19 89.46,422.19"/>
<polygon fill="#e09a50" points="104,419.39 105.54,422.19 102.46,422.19"/>
<polygon fill="#e09a50" points="129,417.39 130.54,420.19 127.46,420.19"/>
<polyline fill="none" stroke="#5b9bdc" stroke-width="1" points="37,426 41.5,419 47.9,417 53,421 65.2,421 78.4,421 91,423 104,424 112,424"/>
<polyline fill="none" stroke="#5b9bdc" stroke-width="1" points="119,423 129,422"/>
<polygon fill="#5b9bdc" points="37,424.27 38.73,426 37,427.73 35.27,426"/>
<polygon fill="#5b9bdc" points="41.5,417.27 43.23,419 41.5,420.73 39.77,419"/>
<polygon fill="#5b9bdc" points="47.9,415.27 49.62,417 47.9,418.73 46.17,417"/>
<polygon fill="#5b9bdc" points="53,419.27 54.73,421 53,422.73 51.27,421"/>
<polygon fill="#5b9bdc" points="65.2,419.27 66.92,421 65.2,422.73 63.48,421"/>
<polygon fill="#5b9bdc" points="78.4,419.27 80.12,421 78.4,422.73 76.68,421"/>
<polygon fill="#5b9bdc" points="91,421.27 92.72,423 91,424.73 89.28,423"/>
<polygon fill="#5b9bdc" points="104,422.27 105.72,424 104,425.73 102.28,424"/>
<polygon fill="#5b9bdc" points="129,420.27 130.72,422 129,423.73 127.28,422"/>
<polyline fill="none" stroke="#c3c335" stroke-width="1" points="37,426 41.5,413 47.9,412 53,414 65.2,416 78.4,416 91,418 104,419 112,419"/>
<polyline fill="none" stroke="#c3c335" stroke-width="1" points="119,417 129,415"/>
<circle cx="37" cy="426" r="2.5" fill="#c3c335"/>
<circle cx="41.5" cy="413" r="2.5" fill="#c3c335"/>
<circle cx="47.9" cy="412" r="2.5" fill="#c3c335"/>
<circle cx="53" cy="414" r="2.5" fill="#c3c335"/>
<circle cx="65.2" cy="416" r="2.5" fill="#c3c335"/>
<circle cx="78.4" cy="416" r="2.5" fill="#c3c335"/>
<circle cx="91" cy="418" r="2.5" fill="#c3c335"/>
<circle cx="104" cy="419" r="2.5" fill="#c3c335"/>
<circle cx="129" cy="415" r="2.5" fill="#c3c335"/>
<polyline fill="none" stroke="#c2a04e" stroke-width="1.2" points="37,426 41.5,411 47.9,410 53,413 65.2,414 78.4,414 91,416.5 104,417 112,417"/>
<polyline fill="none" stroke="#c2a04e" stroke-width="1.2" points="119,414 129,412"/>
<rect x="34.5" y="423.5" width="5" height="5" fill="#c2a04e"/>
<rect x="39" y="408.5" width="5" height="5" fill="#c2a04e"/>
<rect x="45.4" y="407.5" width="5" height="5" fill="#c2a04e"/>
<rect x="50.5" y="410.5" width="5" height="5" fill="#c2a04e"/>
<rect x="62.7" y="411.5" width="5" height="5" fill="#c2a04e"/>
<rect x="75.9" y="411.5" width="5" height="5" fill="#c2a04e"/>
<rect x="88.5" y="414" width="5" height="5" fill="#c2a04e"/>
<rect x="101.5" y="414.5" width="5" height="5" fill="#c2a04e"/>
<rect x="126.5" y="409.5" width="5" height="5" fill="#c2a04e"/>
<polyline fill="none" stroke="#fff200" stroke-width="1.2" points="37,426 41.5,400 47.9,399 53,402.5 65.2,405.3 78.4,405.3 91,410 104,411.8 112,412.5"/>
<polyline fill="none" stroke="#fff200" stroke-width="1.2" points="119,408 129,405"/>
<polygon fill="#fff200" points="37,421.75 41.07,429.14 32.93,429.14"/>
<polygon fill="#fff200" points="41.5,395.75 45.57,403.14 37.43,403.14"/>
<polygon fill="#fff200" points="47.9,394.75 51.97,402.14 43.83,402.14"/>
<polygon fill="#fff200" points="53,398.25 57.07,405.64 48.93,405.64"/>
<polygon fill="#fff200" points="65.2,401.05 69.27,408.44 61.13,408.44"/>
<polygon fill="#fff200" points="78.4,401.05 82.47,408.44 74.33,408.44"/>
<polygon fill="#fff200" points="91,405.75 95.07,413.14 86.93,413.14"/>
<polygon fill="#fff200" points="104,407.55 108.07,414.94 99.93,414.94"/>
<polygon fill="#fff200" points="129,400.75 133.07,408.14 124.93,408.14"/>
<polyline fill="none" stroke="#ee6a94" stroke-width="1.3" points="37,426 41.5,407 47.9,406 53,409 65.2,410 78.4,410 91,413.4 104,414.6 112,415"/>
<polyline fill="none" stroke="#ee6a94" stroke-width="1.3" points="119,411.5 129,407.5"/>
<polygon fill="#ee6a94" points="37,429.68 40.52,423.28 33.48,423.28"/>
<polygon fill="#ee6a94" points="41.5,410.68 45.02,404.28 37.98,404.28"/>
<polygon fill="#ee6a94" points="47.9,409.68 51.42,403.28 44.38,403.28"/>
<polygon fill="#ee6a94" points="53,412.68 56.52,406.28 49.48,406.28"/>
<polygon fill="#ee6a94" points="65.2,413.68 68.72,407.28 61.68,407.28"/>
<polygon fill="#ee6a94" points="78.4,413.68 81.92,407.28 74.88,407.28"/>
<polygon fill="#ee6a94" points="91,417.08 94.52,410.68 87.48,410.68"/>
<polygon fill="#ee6a94" points="104,418.28 107.52,411.88 100.48,411.88"/>
<polygon fill="#ee6a94" points="129,411.18 132.52,404.78 125.48,404.78"/>
<polyline fill="none" stroke="#0a0a0a" stroke-width="1.3" points="37,426 41.5,418.5 47.9,416.5 53,420.5 65.2,421.5 78.4,421.5 91,422.5 104,422.5 112,422.3"/>
<polyline fill="none" stroke="#0a0a0a" stroke-width="1.3" points="119,421.5 129,420.6"/>
<polygon fill="#0a0a0a" points="37,422.32 40.68,426 37,429.68 33.32,426"/>
<polygon fill="#0a0a0a" points="41.5,414.82 45.18,418.5 41.5,422.18 37.82,418.5"/>
<polygon fill="#0a0a0a" points="47.9,412.82 51.58,416.5 47.9,420.18 44.22,416.5"/>
<polygon fill="#0a0a0a" points="53,416.82 56.68,420.5 53,424.18 49.32,420.5"/>
<polygon fill="#0a0a0a" points="65.2,417.82 68.88,421.5 65.2,425.18 61.52,421.5"/>
<polygon fill="#0a0a0a" points="78.4,417.82 82.08,421.5 78.4,425.18 74.72,421.5"/>
<polygon fill="#0a0a0a" points="91,418.82 94.68,422.5 91,426.18 87.32,422.5"/>
<polygon fill="#0a0a0a" points="104,418.82 107.68,422.5 104,426.18 100.32,422.5"/>
<polygon fill="#0a0a0a" points="129,416.92 132.68,420.6 129,424.28 125.32,420.6"/>
<polyline fill="none" stroke="#9a8a3c" stroke-width="1.3" points="37,426.3 41.5,410.8 47.9,410.3 53,412.4 65.2,415 78.4,415 91,417.7 104,418 112,418.5"/>
<polyline fill="none" stroke="#9a8a3c" stroke-width="1.3" points="119,416 129,414.2"/>
<circle cx="37" cy="426.3" r="3.2" fill="#9a8a3c"/>
<circle cx="41.5" cy="410.8" r="3.2" fill="#9a8a3c"/>
<circle cx="47.9" cy="410.3" r="3.2" fill="#9a8a3c"/>
<circle cx="53" cy="412.4" r="3.2" fill="#9a8a3c"/>
<circle cx="65.2" cy="415" r="3.2" fill="#9a8a3c"/>
<circle cx="78.4" cy="415" r="3.2" fill="#9a8a3c"/>
<circle cx="91" cy="417.7" r="3.2" fill="#9a8a3c"/>
<circle cx="104" cy="418" r="3.2" fill="#9a8a3c"/>
<circle cx="129" cy="414.2" r="3.2" fill="#9a8a3c"/>
<polyline fill="none" stroke="#777" stroke-width="0.7" points="37,426 41.5,420 47.9,419 53,421 65.2,421.5 78.4,421.5 91,423 104,423.5 112,423.5"/>
<polyline fill="none" stroke="#777" stroke-width="0.7" points="119,422.5 129,422"/>
<polygon fill="#222" points="37,424.56 37.35,425.51 38.37,425.56 37.57,426.19 37.85,427.16 37,426.6 36.15,427.16 36.43,426.19 35.63,425.56 36.65,425.51"/>
<polygon fill="#222" points="41.5,418.56 41.85,419.51 42.87,419.56 42.07,420.19 42.35,421.16 41.5,420.6 40.65,421.16 40.93,420.19 40.13,419.56 41.15,419.51"/>
<polygon fill="#222" points="47.9,417.56 48.25,418.51 49.27,418.56 48.47,419.19 48.75,420.16 47.9,419.6 47.05,420.16 47.33,419.19 46.53,418.56 47.55,418.51"/>
<polygon fill="#222" points="53,419.56 53.35,420.51 54.37,420.56 53.57,421.19 53.85,422.16 53,421.6 52.15,422.16 52.43,421.19 51.63,420.56 52.65,420.51"/>
<polygon fill="#222" points="65.2,420.06 65.55,421.01 66.57,421.06 65.77,421.69 66.05,422.66 65.2,422.1 64.35,422.66 64.63,421.69 63.83,421.06 64.85,421.01"/>
<polygon fill="#222" points="78.4,420.06 78.75,421.01 79.77,421.06 78.97,421.69 79.25,422.66 78.4,422.1 77.55,422.66 77.83,421.69 77.03,421.06 78.05,421.01"/>
<polygon fill="#222" points="91,421.56 91.35,422.51 92.37,422.56 91.57,423.19 91.85,424.16 91,423.6 90.15,424.16 90.43,423.19 89.63,422.56 90.65,422.51"/>
<polygon fill="#222" points="104,422.06 104.35,423.01 105.37,423.06 104.57,423.69 104.85,424.66 104,424.1 103.15,424.66 103.43,423.69 102.63,423.06 103.65,423.01"/>
<polygon fill="#222" points="129,420.56 129.35,421.51 130.37,421.56 129.57,422.19 129.85,423.16 129,422.6 128.15,423.16 128.43,422.19 127.63,421.56 128.65,421.51"/>
<circle cx="139.2" cy="458" r="1.8" fill="#b0a43c"/>
<line x1="200" y1="376.5" x2="200" y2="462.3" stroke="#0a0a0a" stroke-width="1.8"/>
<line x1="197.4" y1="377.4" x2="200" y2="377.4" stroke="#0a0a0a" stroke-width="1.5"/>
<text x="196.9" y="379.15" font-size="4.3" text-anchor="end" font-weight="bold" stroke="#0a0a0a" stroke-width="0.3" fill="#0a0a0a">100</text>
<line x1="197.4" y1="401.3" x2="200" y2="401.3" stroke="#0a0a0a" stroke-width="1.5"/>
<text x="196.9" y="403.05" font-size="4.3" text-anchor="end" font-weight="bold" stroke="#0a0a0a" stroke-width="0.3" fill="#0a0a0a">10</text>
<line x1="197.4" y1="425.3" x2="200" y2="425.3" stroke="#0a0a0a" stroke-width="1.5"/>
<text x="196.9" y="427.05" font-size="4.3" text-anchor="end" font-weight="bold" stroke="#0a0a0a" stroke-width="0.3" fill="#0a0a0a">1</text>
<line x1="197.4" y1="449.2" x2="200" y2="449.2" stroke="#0a0a0a" stroke-width="1.5"/>
<text x="196.9" y="450.95" font-size="4.3" text-anchor="end" font-weight="bold" stroke="#0a0a0a" stroke-width="0.3" fill="#0a0a0a">0.1</text>
<line x1="199.1" y1="461.4" x2="275.5" y2="461.4" stroke="#0a0a0a" stroke-width="1.8"/>
<line x1="200" y1="460.2" x2="200" y2="464.3" stroke="#0a0a0a" stroke-width="1.35"/>
<text x="200" y="468.15" font-size="4.21" text-anchor="middle" font-weight="bold" stroke="#0a0a0a" stroke-width="0.3" fill="#0a0a0a">0</text>
<line x1="218.7" y1="460.2" x2="218.7" y2="464.3" stroke="#0a0a0a" stroke-width="1.35"/>
<text x="218.7" y="468.15" font-size="4.21" text-anchor="middle" font-weight="bold" stroke="#0a0a0a" stroke-width="0.3" fill="#0a0a0a">10</text>
<line x1="237.4" y1="460.2" x2="237.4" y2="464.3" stroke="#0a0a0a" stroke-width="1.35"/>
<text x="237.4" y="468.15" font-size="4.21" text-anchor="middle" font-weight="bold" stroke="#0a0a0a" stroke-width="0.3" fill="#0a0a0a">20</text>
<line x1="256" y1="460.2" x2="256" y2="464.3" stroke="#0a0a0a" stroke-width="1.35"/>
<text x="256" y="468.15" font-size="4.21" text-anchor="middle" font-weight="bold" stroke="#0a0a0a" stroke-width="0.3" fill="#0a0a0a">30</text>
<line x1="274.6" y1="460.2" x2="274.6" y2="464.3" stroke="#0a0a0a" stroke-width="1.35"/>
<text x="274.6" y="468.15" font-size="4.21" text-anchor="middle" font-weight="bold" stroke="#0a0a0a" stroke-width="0.3" fill="#0a0a0a">40</text>
<line x1="281.5" y1="461.4" x2="293.3" y2="461.4" stroke="#0a0a0a" stroke-width="1.8"/>
<line x1="282.4" y1="460.2" x2="282.4" y2="464.3" stroke="#0a0a0a" stroke-width="1.35"/>
<text x="282.4" y="468.15" font-size="4.21" text-anchor="middle" font-weight="bold" stroke="#0a0a0a" stroke-width="0.3" fill="#0a0a0a">90</text>
<line x1="292.4" y1="460.2" x2="292.4" y2="464.3" stroke="#0a0a0a" stroke-width="1.35"/>
<text x="292.4" y="468.15" font-size="4.21" text-anchor="middle" font-weight="bold" stroke="#0a0a0a" stroke-width="0.3" fill="#0a0a0a">100</text>
<line x1="212.7" y1="459.6" x2="239" y2="459.6" stroke="#7c7c7c" stroke-width="1.7"/>
<text x="244.4" y="371.4" font-size="7.1" text-anchor="middle" font-weight="bold" stroke="#111" stroke-width="0.22" fill="#111">UPN-03</text>
<text x="189.2" y="419" font-size="6.45" text-anchor="middle" stroke="#0a0a0a" stroke-width="0.38" transform="rotate(-90 189.2 419)" fill="#0a0a0a">Fold change</text>
<text x="247.5" y="476" font-size="6.2" text-anchor="middle" font-weight="bold" stroke="#111" stroke-width="0.22" fill="#111">Days after CY</text>
<line x1="203.8" y1="465.3" x2="203.8" y2="472.6" stroke="#0a0a0a" stroke-width="1.4"/>
<polygon fill="#0a0a0a" points="203.8,463.3 205.9,468.2 201.7,468.2"/>
<line x1="208.9" y1="465.3" x2="208.9" y2="472.6" stroke="#0a0a0a" stroke-width="1.4"/>
<polygon fill="#0a0a0a" points="208.9,463.3 211,468.2 206.8,468.2"/>
<line x1="212.8" y1="465.3" x2="212.8" y2="472.6" stroke="#0a0a0a" stroke-width="1.4"/>
<polygon fill="#0a0a0a" points="212.8,463.3 214.9,468.2 210.7,468.2"/>
<polyline fill="none" stroke="#ee6a94" stroke-width="1.3" points="199.7,425.3 204,441 208.8,441 213.5,442.5 226,420 240.9,441 255.6,448 266.8,448 274.6,446"/>
<polyline fill="none" stroke="#ee6a94" stroke-width="1.3" points="282.4,442 290.6,441.6"/>
<polygon fill="#ee6a94" points="204,445.14 207.96,437.94 200.04,437.94"/>
<polygon fill="#ee6a94" points="208.8,445.14 212.76,437.94 204.84,437.94"/>
<polygon fill="#ee6a94" points="213.5,446.64 217.46,439.44 209.54,439.44"/>
<polygon fill="#ee6a94" points="226,424.14 229.96,416.94 222.04,416.94"/>
<polygon fill="#ee6a94" points="240.9,445.14 244.86,437.94 236.94,437.94"/>
<polygon fill="#ee6a94" points="255.6,452.14 259.56,444.94 251.64,444.94"/>
<polygon fill="#ee6a94" points="266.8,452.14 270.76,444.94 262.84,444.94"/>
<polygon fill="#ee6a94" points="290.6,445.74 294.56,438.54 286.64,438.54"/>
<polyline fill="none" stroke="#3c5cb4" stroke-width="1" points="199.7,425.3 204,435 208.8,436 213.5,414 226,416 240.9,440 255.6,440 266.8,440 274.6,440"/>
<polyline fill="none" stroke="#3c5cb4" stroke-width="1" points="282.2,450.8 291,462"/>
<circle cx="199.7" cy="425.3" r="1.4" fill="#3c5cb4"/>
<circle cx="204" cy="435" r="1.4" fill="#3c5cb4"/>
<circle cx="208.8" cy="436" r="1.4" fill="#3c5cb4"/>
<circle cx="213.5" cy="414" r="1.4" fill="#3c5cb4"/>
<circle cx="226" cy="416" r="1.4" fill="#3c5cb4"/>
<circle cx="240.9" cy="440" r="1.4" fill="#3c5cb4"/>
<circle cx="255.6" cy="440" r="1.4" fill="#3c5cb4"/>
<circle cx="266.8" cy="440" r="1.4" fill="#3c5cb4"/>
<circle cx="291" cy="462" r="1.4" fill="#3c5cb4"/>
<polyline fill="none" stroke="#e0213a" stroke-width="1.3" points="199.7,425.3 204,442.4 208.8,442.4 213.5,442.7 226,421 240.9,442.7 255.6,442.7 266.8,442.7 274.6,442.7"/>
<polyline fill="none" stroke="#e0213a" stroke-width="1.3" points="282.4,443.3 290.6,443.3"/>
<rect x="198" y="423.6" width="3.4" height="3.4" fill="#e0213a"/>
<rect x="202.3" y="440.7" width="3.4" height="3.4" fill="#e0213a"/>
<rect x="207.1" y="440.7" width="3.4" height="3.4" fill="#e0213a"/>
<rect x="211.8" y="441" width="3.4" height="3.4" fill="#e0213a"/>
<rect x="224.3" y="419.3" width="3.4" height="3.4" fill="#e0213a"/>
<rect x="239.2" y="441" width="3.4" height="3.4" fill="#e0213a"/>
<rect x="253.9" y="441" width="3.4" height="3.4" fill="#e0213a"/>
<rect x="265.1" y="441" width="3.4" height="3.4" fill="#e0213a"/>
<rect x="288.9" y="441.6" width="3.4" height="3.4" fill="#e0213a"/>
<polyline fill="none" stroke="#1f6b3a" stroke-width="1.3" points="199.7,425.3 204,427 208.8,428 213.5,416 226,426 240.9,430 255.6,435.5 266.8,435.5 274.6,435.5"/>
<polyline fill="none" stroke="#1f6b3a" stroke-width="1.3" points="282.4,435.5 290.6,435.5"/>
<polygon fill="#1f6b3a" points="199.7,423.57 201.35,426.57 198.05,426.57"/>
<polygon fill="#1f6b3a" points="204,425.27 205.65,428.27 202.35,428.27"/>
<polygon fill="#1f6b3a" points="208.8,426.27 210.45,429.27 207.15,429.27"/>
<polygon fill="#1f6b3a" points="213.5,414.27 215.15,417.27 211.85,417.27"/>
<polygon fill="#1f6b3a" points="226,424.27 227.65,427.27 224.35,427.27"/>
<polygon fill="#1f6b3a" points="240.9,428.27 242.55,431.27 239.25,431.27"/>
<polygon fill="#1f6b3a" points="255.6,433.77 257.25,436.77 253.95,436.77"/>
<polygon fill="#1f6b3a" points="266.8,433.77 268.45,436.77 265.15,436.77"/>
<polygon fill="#1f6b3a" points="290.6,433.77 292.25,436.77 288.95,436.77"/>
<polyline fill="none" stroke="#e09a50" stroke-width="1" points="199.7,425.3 204,428 208.8,428 213.5,428 226,427 240.9,428 255.6,428 266.8,428 274.6,428"/>
<polyline fill="none" stroke="#e09a50" stroke-width="1" points="282.4,428 290.6,428"/>
<polygon fill="#e09a50" points="199.7,423.81 201.13,426.41 198.27,426.41"/>
<polygon fill="#e09a50" points="204,426.5 205.43,429.11 202.57,429.11"/>
<polygon fill="#e09a50" points="208.8,426.5 210.23,429.11 207.37,429.11"/>
<polygon fill="#e09a50" points="213.5,426.5 214.93,429.11 212.07,429.11"/>
<polygon fill="#e09a50" points="226,425.5 227.43,428.11 224.57,428.11"/>
<polygon fill="#e09a50" points="240.9,426.5 242.33,429.11 239.47,429.11"/>
<polygon fill="#e09a50" points="255.6,426.5 257.03,429.11 254.17,429.11"/>
<polygon fill="#e09a50" points="266.8,426.5 268.23,429.11 265.37,429.11"/>
<polygon fill="#e09a50" points="290.6,426.5 292.03,429.11 289.17,429.11"/>
<polyline fill="none" stroke="#5b9bdc" stroke-width="1.3" points="199.7,425.3 204,433 208.8,434 213.5,432 226,397 240.9,405 255.6,426 266.8,428 274.6,428"/>
<polyline fill="none" stroke="#5b9bdc" stroke-width="1.3" points="282.4,429 290.6,429"/>
<polygon fill="#5b9bdc" points="199.7,423.57 201.42,425.3 199.7,427.03 197.97,425.3"/>
<polygon fill="#5b9bdc" points="204,431.27 205.72,433 204,434.73 202.28,433"/>
<polygon fill="#5b9bdc" points="208.8,432.27 210.53,434 208.8,435.73 207.08,434"/>
<polygon fill="#5b9bdc" points="213.5,430.27 215.22,432 213.5,433.73 211.78,432"/>
<polygon fill="#5b9bdc" points="226,395.27 227.72,397 226,398.73 224.28,397"/>
<polygon fill="#5b9bdc" points="240.9,403.27 242.62,405 240.9,406.73 239.18,405"/>
<polygon fill="#5b9bdc" points="255.6,424.27 257.32,426 255.6,427.73 253.88,426"/>
<polygon fill="#5b9bdc" points="266.8,426.27 268.53,428 266.8,429.73 265.07,428"/>
<polygon fill="#5b9bdc" points="290.6,427.27 292.33,429 290.6,430.73 288.88,429"/>
<polyline fill="none" stroke="#8878c0" stroke-width="1" points="199.7,425.3 204,426 208.8,426 213.5,426 226,425.4 240.9,425.4 255.6,425.4 266.8,425.4 274.6,425.4"/>
<polyline fill="none" stroke="#8878c0" stroke-width="1" points="282.4,425.4 290.6,425.4"/>
<rect x="198.7" y="424.3" width="2" height="2" fill="#8878c0"/>
<rect x="203" y="425" width="2" height="2" fill="#8878c0"/>
<rect x="207.8" y="425" width="2" height="2" fill="#8878c0"/>
<rect x="212.5" y="425" width="2" height="2" fill="#8878c0"/>
<rect x="225" y="424.4" width="2" height="2" fill="#8878c0"/>
<rect x="239.9" y="424.4" width="2" height="2" fill="#8878c0"/>
<rect x="254.6" y="424.4" width="2" height="2" fill="#8878c0"/>
<rect x="265.8" y="424.4" width="2" height="2" fill="#8878c0"/>
<rect x="289.6" y="424.4" width="2" height="2" fill="#8878c0"/>
<polyline fill="none" stroke="#5a3fb0" stroke-width="1.3" points="199.7,425.3 204,439.4 208.8,439.4 213.5,439.6 226,421 240.9,440.4 255.6,440.4 266.8,440.4 274.6,440.4"/>
<polyline fill="none" stroke="#5a3fb0" stroke-width="1.3" points="282.4,440.2 290.6,440.2"/>
<rect x="198.1" y="423.7" width="3.2" height="3.2" fill="#5a3fb0"/>
<rect x="202.4" y="437.8" width="3.2" height="3.2" fill="#5a3fb0"/>
<rect x="207.2" y="437.8" width="3.2" height="3.2" fill="#5a3fb0"/>
<rect x="211.9" y="438" width="3.2" height="3.2" fill="#5a3fb0"/>
<rect x="224.4" y="419.4" width="3.2" height="3.2" fill="#5a3fb0"/>
<rect x="239.3" y="438.8" width="3.2" height="3.2" fill="#5a3fb0"/>
<rect x="254" y="438.8" width="3.2" height="3.2" fill="#5a3fb0"/>
<rect x="265.2" y="438.8" width="3.2" height="3.2" fill="#5a3fb0"/>
<rect x="289" y="438.6" width="3.2" height="3.2" fill="#5a3fb0"/>
<polyline fill="none" stroke="#c3c335" stroke-width="1.4" points="199.7,425.3 204,432 208.8,432 213.5,432 226,381.5 240.9,391.7 255.6,402.2 266.8,406.7 274.6,415"/>
<circle cx="199.7" cy="425.3" r="2.7" fill="#c3c335"/>
<circle cx="204" cy="432" r="2.7" fill="#c3c335"/>
<circle cx="208.8" cy="432" r="2.7" fill="#c3c335"/>
<circle cx="213.5" cy="432" r="2.7" fill="#c3c335"/>
<circle cx="226" cy="381.5" r="2.7" fill="#c3c335"/>
<circle cx="240.9" cy="391.7" r="2.7" fill="#c3c335"/>
<circle cx="255.6" cy="402.2" r="2.7" fill="#c3c335"/>
<circle cx="266.8" cy="406.7" r="2.7" fill="#c3c335"/>
<polyline fill="none" stroke="#c2a04e" stroke-width="2" points="199.7,425.3 204,430.6 208.8,430.6 213.5,431 226,395.5 240.9,409.5 255.6,430.6 266.8,430.6 274.6,430.6"/>
<polyline fill="none" stroke="#c2a04e" stroke-width="2" points="282.4,431.5 290.6,432"/>
<rect x="197.3" y="422.9" width="4.8" height="4.8" fill="#c2a04e"/>
<rect x="201.6" y="428.2" width="4.8" height="4.8" fill="#c2a04e"/>
<rect x="206.4" y="428.2" width="4.8" height="4.8" fill="#c2a04e"/>
<rect x="211.1" y="428.6" width="4.8" height="4.8" fill="#c2a04e"/>
<rect x="223.6" y="393.1" width="4.8" height="4.8" fill="#c2a04e"/>
<rect x="238.5" y="407.1" width="4.8" height="4.8" fill="#c2a04e"/>
<rect x="253.2" y="428.2" width="4.8" height="4.8" fill="#c2a04e"/>
<rect x="264.4" y="428.2" width="4.8" height="4.8" fill="#c2a04e"/>
<rect x="288.2" y="429.6" width="4.8" height="4.8" fill="#c2a04e"/>
<polygon fill="#ee6a94" points="226,423.68 229.52,417.28 222.48,417.28"/>
<polyline fill="none" stroke="#fff200" stroke-width="1" points="199.7,425.3 204,427 208.8,427 213.5,426 226,428 240.9,427.5 255.6,426 266.8,426 274.6,426"/>
<polyline fill="none" stroke="#fff200" stroke-width="1" points="282.4,426 290.6,426"/>
<polygon fill="#fff200" points="240.9,424.05 244.2,430.05 237.6,430.05"/>
<polygon fill="#fff200" points="255.6,422.55 258.9,428.55 252.3,428.55"/>
<polygon fill="#fff200" points="266.8,422.55 270.1,428.55 263.5,428.55"/>
<polygon fill="#fff200" points="290.6,422.55 293.9,428.55 287.3,428.55"/>
<polyline fill="none" stroke="#0a0a0a" stroke-width="1.3" points="199.7,425.3 204,427.3 208.8,427.3 213.2,426.2 214.8,413.1 226,427.6 240.9,428.6 255.6,428.8 266.8,428.8 274.4,428.8"/>
<polyline fill="none" stroke="#0a0a0a" stroke-width="1.3" points="282.4,427.8 290.6,427.6"/>
<polygon fill="#0a0a0a" points="204,423.5 207.79,427.3 204,431.1 200.21,427.3"/>
<polygon fill="#0a0a0a" points="208.8,423.5 212.59,427.3 208.8,431.1 205.01,427.3"/>
<polygon fill="#0a0a0a" points="213.2,422.4 216.99,426.2 213.2,430 209.41,426.2"/>
<polygon fill="#0a0a0a" points="214.8,409.31 218.59,413.1 214.8,416.9 211.01,413.1"/>
<polygon fill="#0a0a0a" points="226,423.81 229.79,427.6 226,431.4 222.21,427.6"/>
<polygon fill="#0a0a0a" points="240.9,424.81 244.69,428.6 240.9,432.4 237.11,428.6"/>
<polygon fill="#0a0a0a" points="255.6,425 259.39,428.8 255.6,432.6 251.81,428.8"/>
<polygon fill="#0a0a0a" points="266.8,425 270.6,428.8 266.8,432.6 263,428.8"/>
<polygon fill="#0a0a0a" points="290.6,423.81 294.4,427.6 290.6,431.4 286.81,427.6"/>
<polyline fill="none" stroke="#9a8a3c" stroke-width="1.3" points="199.7,425.3 204,434 208.8,434 213.5,434 226,409.5 240.9,423 255.6,434.2 266.8,434.2 274.6,434.2"/>
<polyline fill="none" stroke="#9a8a3c" stroke-width="1.3" points="282.4,434.4 290.6,434.5"/>
<circle cx="204" cy="434" r="2.8" fill="#9a8a3c"/>
<circle cx="208.8" cy="434" r="2.8" fill="#9a8a3c"/>
<circle cx="213.5" cy="434" r="2.8" fill="#9a8a3c"/>
<circle cx="226" cy="409.5" r="2.8" fill="#9a8a3c"/>
<circle cx="240.9" cy="423" r="2.8" fill="#9a8a3c"/>
<circle cx="255.6" cy="434.2" r="2.8" fill="#9a8a3c"/>
<circle cx="266.8" cy="434.2" r="2.8" fill="#9a8a3c"/>
<circle cx="290.6" cy="434.5" r="2.8" fill="#9a8a3c"/>
<polyline fill="none" stroke="#777" stroke-width="0.6" points="199.7,425.3 204,428 208.8,428 213.5,428 226,428 240.9,428.4 255.6,428.6 266.8,428.6 274.6,428.6"/>
<polyline fill="none" stroke="#777" stroke-width="0.6" points="282.4,428 290.6,428"/>
<polygon fill="#222" points="204,426.68 204.32,427.56 205.26,427.59 204.52,428.17 204.78,429.07 204,428.55 203.22,429.07 203.48,428.17 202.74,427.59 203.68,427.56"/>
<polygon fill="#222" points="208.8,426.68 209.12,427.56 210.06,427.59 209.32,428.17 209.58,429.07 208.8,428.55 208.02,429.07 208.28,428.17 207.54,427.59 208.48,427.56"/>
<polygon fill="#222" points="213.5,426.68 213.82,427.56 214.76,427.59 214.02,428.17 214.28,429.07 213.5,428.55 212.72,429.07 212.98,428.17 212.24,427.59 213.18,427.56"/>
<polygon fill="#222" points="226,426.68 226.32,427.56 227.26,427.59 226.52,428.17 226.78,429.07 226,428.55 225.22,429.07 225.48,428.17 224.74,427.59 225.68,427.56"/>
<polygon fill="#222" points="240.9,427.08 241.22,427.96 242.16,427.99 241.42,428.57 241.68,429.47 240.9,428.95 240.12,429.47 240.38,428.57 239.64,427.99 240.58,427.96"/>
<polygon fill="#222" points="255.6,427.28 255.92,428.16 256.86,428.19 256.12,428.77 256.38,429.67 255.6,429.15 254.82,429.67 255.08,428.77 254.34,428.19 255.28,428.16"/>
<polygon fill="#222" points="266.8,427.28 267.12,428.16 268.06,428.19 267.32,428.77 267.58,429.67 266.8,429.15 266.02,429.67 266.28,428.77 265.54,428.19 266.48,428.16"/>
<polygon fill="#222" points="290.6,426.68 290.92,427.56 291.86,427.59 291.12,428.17 291.38,429.07 290.6,428.55 289.82,429.07 290.08,428.17 289.34,427.59 290.28,427.56"/>
<rect x="196.6" y="422.2" width="5.4" height="5.4" fill="#b8985a"/>
<polygon fill="#2a2a20" points="199.3,423.22 199.71,424.33 200.9,424.38 199.97,425.12 200.29,426.26 199.3,425.6 198.31,426.26 198.63,425.12 197.7,424.38 198.89,424.33"/>
<line x1="363.3" y1="377.1" x2="363.3" y2="462.3" stroke="#0a0a0a" stroke-width="1.8"/>
<line x1="360.7" y1="378" x2="363.3" y2="378" stroke="#0a0a0a" stroke-width="1.5"/>
<text x="360.2" y="379.75" font-size="4.3" text-anchor="end" font-weight="bold" stroke="#0a0a0a" stroke-width="0.3" fill="#0a0a0a">100</text>
<line x1="360.7" y1="401.7" x2="363.3" y2="401.7" stroke="#0a0a0a" stroke-width="1.5"/>
<text x="360.2" y="403.45" font-size="4.3" text-anchor="end" font-weight="bold" stroke="#0a0a0a" stroke-width="0.3" fill="#0a0a0a">10</text>
<line x1="360.7" y1="425.4" x2="363.3" y2="425.4" stroke="#0a0a0a" stroke-width="1.5"/>
<text x="360.2" y="427.15" font-size="4.3" text-anchor="end" font-weight="bold" stroke="#0a0a0a" stroke-width="0.3" fill="#0a0a0a">1</text>
<line x1="360.7" y1="449.1" x2="363.3" y2="449.1" stroke="#0a0a0a" stroke-width="1.5"/>
<text x="360.2" y="450.85" font-size="4.3" text-anchor="end" font-weight="bold" stroke="#0a0a0a" stroke-width="0.3" fill="#0a0a0a">0.1</text>
<line x1="362.4" y1="461.4" x2="436.4" y2="461.4" stroke="#0a0a0a" stroke-width="1.8"/>
<line x1="363.3" y1="460.2" x2="363.3" y2="464.3" stroke="#0a0a0a" stroke-width="1.35"/>
<text x="363.3" y="468.15" font-size="4.21" text-anchor="middle" font-weight="bold" stroke="#0a0a0a" stroke-width="0.3" fill="#0a0a0a">0</text>
<line x1="381.3" y1="460.2" x2="381.3" y2="464.3" stroke="#0a0a0a" stroke-width="1.35"/>
<text x="381.3" y="468.15" font-size="4.21" text-anchor="middle" font-weight="bold" stroke="#0a0a0a" stroke-width="0.3" fill="#0a0a0a">10</text>
<line x1="399.3" y1="460.2" x2="399.3" y2="464.3" stroke="#0a0a0a" stroke-width="1.35"/>
<text x="399.3" y="468.15" font-size="4.21" text-anchor="middle" font-weight="bold" stroke="#0a0a0a" stroke-width="0.3" fill="#0a0a0a">20</text>
<line x1="417.4" y1="460.2" x2="417.4" y2="464.3" stroke="#0a0a0a" stroke-width="1.35"/>
<text x="417.4" y="468.15" font-size="4.21" text-anchor="middle" font-weight="bold" stroke="#0a0a0a" stroke-width="0.3" fill="#0a0a0a">30</text>
<line x1="435.5" y1="460.2" x2="435.5" y2="464.3" stroke="#0a0a0a" stroke-width="1.35"/>
<text x="435.5" y="468.15" font-size="4.21" text-anchor="middle" font-weight="bold" stroke="#0a0a0a" stroke-width="0.3" fill="#0a0a0a">40</text>
<line x1="444.5" y1="461.4" x2="455.3" y2="461.4" stroke="#0a0a0a" stroke-width="1.8"/>
<line x1="445.4" y1="460.2" x2="445.4" y2="464.3" stroke="#0a0a0a" stroke-width="1.35"/>
<text x="445.4" y="468.15" font-size="4.21" text-anchor="middle" font-weight="bold" stroke="#0a0a0a" stroke-width="0.3" fill="#0a0a0a">90</text>
<line x1="454.4" y1="460.2" x2="454.4" y2="464.3" stroke="#0a0a0a" stroke-width="1.35"/>
<text x="454.4" y="468.15" font-size="4.21" text-anchor="middle" font-weight="bold" stroke="#0a0a0a" stroke-width="0.3" fill="#0a0a0a">100</text>
<line x1="376.4" y1="459.6" x2="400" y2="459.6" stroke="#7c7c7c" stroke-width="1.7"/>
<text x="407" y="373.7" font-size="7.1" text-anchor="middle" font-weight="bold" stroke="#111" stroke-width="0.22" fill="#111">UPN-04</text>
<text x="351.8" y="419" font-size="6.45" text-anchor="middle" stroke="#0a0a0a" stroke-width="0.38" transform="rotate(-90 351.8 419)" fill="#0a0a0a">Fold change</text>
<text x="409" y="476" font-size="6.2" text-anchor="middle" font-weight="bold" stroke="#111" stroke-width="0.22" fill="#111">Days after CY</text>
<line x1="366.8" y1="465.3" x2="366.8" y2="472.6" stroke="#0a0a0a" stroke-width="1.4"/>
<polygon fill="#0a0a0a" points="366.8,463.3 368.9,468.2 364.7,468.2"/>
<line x1="373" y1="465.3" x2="373" y2="472.6" stroke="#0a0a0a" stroke-width="1.4"/>
<polygon fill="#0a0a0a" points="373,463.3 375.1,468.2 370.9,468.2"/>
<line x1="376.4" y1="465.3" x2="376.4" y2="472.6" stroke="#0a0a0a" stroke-width="1.4"/>
<polygon fill="#0a0a0a" points="376.4,463.3 378.5,468.2 374.3,468.2"/>
<polyline fill="none" stroke="#f6ec3a" stroke-width="1.6" points="361.6,425.5 365.6,425.5 373.6,425.5 377.7,425.5 389.8,425.5 406.2,425.5 418.9,425.5 430,425.5 435.6,425.5"/>
<polyline fill="none" stroke="#f6ec3a" stroke-width="1.6" points="445.2,425.5 451,425.5 452.4,425.5"/>
<polygon fill="#f6ec3a" points="361.6,421.82 365.12,428.22 358.08,428.22"/>
<polygon fill="#f6ec3a" points="365.6,421.82 369.12,428.22 362.08,428.22"/>
<polygon fill="#f6ec3a" points="373.6,421.82 377.12,428.22 370.08,428.22"/>
<polygon fill="#f6ec3a" points="377.7,421.82 381.22,428.22 374.18,428.22"/>
<polygon fill="#f6ec3a" points="389.8,421.82 393.32,428.22 386.28,428.22"/>
<polygon fill="#f6ec3a" points="406.2,421.82 409.72,428.22 402.68,428.22"/>
<polygon fill="#f6ec3a" points="418.9,421.82 422.42,428.22 415.38,428.22"/>
<polygon fill="#f6ec3a" points="430,421.82 433.52,428.22 426.48,428.22"/>
<polygon fill="#f6ec3a" points="451,421.82 454.52,428.22 447.48,428.22"/>
<polyline fill="none" stroke="#3a48b0" stroke-width="1.4" points="361.6,425.5 365.6,425.5 373.6,425.5 377.7,408.5 389.8,425.5 406.2,425.5 418.9,425.5 430,425.5 435.6,425.5"/>
<polyline fill="none" stroke="#3a48b0" stroke-width="1.4" points="445.2,425.5 451,425.5 452.4,425.5"/>
<circle cx="361.6" cy="425.5" r="2" fill="#3a48b0"/>
<circle cx="365.6" cy="425.5" r="2" fill="#3a48b0"/>
<circle cx="373.6" cy="425.5" r="2" fill="#3a48b0"/>
<circle cx="377.7" cy="408.5" r="2" fill="#3a48b0"/>
<circle cx="389.8" cy="425.5" r="2" fill="#3a48b0"/>
<circle cx="406.2" cy="425.5" r="2" fill="#3a48b0"/>
<circle cx="418.9" cy="425.5" r="2" fill="#3a48b0"/>
<circle cx="430" cy="425.5" r="2" fill="#3a48b0"/>
<circle cx="451" cy="425.5" r="2" fill="#3a48b0"/>
<polyline fill="none" stroke="#e09a50" stroke-width="1" points="361.6,425.5 365.6,425.5 373.6,425.5 377.7,421.8 389.8,425.5 406.2,425.5 418.9,425.5 430,425.5 435.6,425.5"/>
<polyline fill="none" stroke="#e09a50" stroke-width="1" points="445.2,425.5 451,425.5 452.4,425.5"/>
<polygon fill="#e09a50" points="361.6,424 363.03,426.61 360.17,426.61"/>
<polygon fill="#e09a50" points="365.6,424 367.03,426.61 364.17,426.61"/>
<polygon fill="#e09a50" points="373.6,424 375.03,426.61 372.17,426.61"/>
<polygon fill="#e09a50" points="377.7,420.31 379.13,422.91 376.27,422.91"/>
<polygon fill="#e09a50" points="389.8,424 391.23,426.61 388.37,426.61"/>
<polygon fill="#e09a50" points="406.2,424 407.63,426.61 404.77,426.61"/>
<polygon fill="#e09a50" points="418.9,424 420.33,426.61 417.47,426.61"/>
<polygon fill="#e09a50" points="430,424 431.43,426.61 428.57,426.61"/>
<polygon fill="#e09a50" points="451,424 452.43,426.61 449.57,426.61"/>
<polyline fill="none" stroke="#c2a04e" stroke-width="1" points="361.6,425.5 365.6,425.5 373.6,425.5 377.7,425.5 389.8,425.5 406.2,425.5 418.9,425.5 430,425.5 435.6,425.5"/>
<polyline fill="none" stroke="#c2a04e" stroke-width="1" points="445.2,425.5 451,425.5 452.4,425.5"/>
<rect x="359.5" y="423.4" width="4.2" height="4.2" fill="#c2a04e"/>
<rect x="363.5" y="423.4" width="4.2" height="4.2" fill="#c2a04e"/>
<rect x="371.5" y="423.4" width="4.2" height="4.2" fill="#c2a04e"/>
<rect x="375.6" y="423.4" width="4.2" height="4.2" fill="#c2a04e"/>
<rect x="387.7" y="423.4" width="4.2" height="4.2" fill="#c2a04e"/>
<rect x="404.1" y="423.4" width="4.2" height="4.2" fill="#c2a04e"/>
<rect x="416.8" y="423.4" width="4.2" height="4.2" fill="#c2a04e"/>
<rect x="427.9" y="423.4" width="4.2" height="4.2" fill="#c2a04e"/>
<rect x="448.9" y="423.4" width="4.2" height="4.2" fill="#c2a04e"/>
<polyline fill="none" stroke="#c3c335" stroke-width="0.9" points="361.6,425.5 365.6,425.5 373.6,425.5 377.7,425.5 389.8,425.5 406.2,425.5 418.9,425.5 430,425.5 435.6,425.5"/>
<polyline fill="none" stroke="#c3c335" stroke-width="0.9" points="445.2,425.5 451,425.5 452.4,425.5"/>
<circle cx="361.6" cy="425.5" r="2.3" fill="#c3c335"/>
<circle cx="365.6" cy="425.5" r="2.3" fill="#c3c335"/>
<circle cx="373.6" cy="425.5" r="2.3" fill="#c3c335"/>
<circle cx="377.7" cy="425.5" r="2.3" fill="#c3c335"/>
<circle cx="389.8" cy="425.5" r="2.3" fill="#c3c335"/>
<circle cx="406.2" cy="425.5" r="2.3" fill="#c3c335"/>
<circle cx="418.9" cy="425.5" r="2.3" fill="#c3c335"/>
<circle cx="430" cy="425.5" r="2.3" fill="#c3c335"/>
<circle cx="451" cy="425.5" r="2.3" fill="#c3c335"/>
<polyline fill="none" stroke="#1f6b3a" stroke-width="0.9" points="361.6,425.5 365.6,425.5 373.6,425.5 377.7,425.5 389.8,425.5 406.2,425.5 418.9,425.5 430,425.5 435.6,425.5"/>
<polyline fill="none" stroke="#1f6b3a" stroke-width="0.9" points="445.2,425.5 451,425.5 452.4,425.5"/>
<polygon fill="#1f6b3a" points="361.6,423.77 363.25,426.77 359.95,426.77"/>
<polygon fill="#1f6b3a" points="365.6,423.77 367.25,426.77 363.95,426.77"/>
<polygon fill="#1f6b3a" points="373.6,423.77 375.25,426.77 371.95,426.77"/>
<polygon fill="#1f6b3a" points="377.7,423.77 379.35,426.77 376.05,426.77"/>
<polygon fill="#1f6b3a" points="389.8,423.77 391.45,426.77 388.15,426.77"/>
<polygon fill="#1f6b3a" points="406.2,423.77 407.85,426.77 404.55,426.77"/>
<polygon fill="#1f6b3a" points="418.9,423.77 420.55,426.77 417.25,426.77"/>
<polygon fill="#1f6b3a" points="430,423.77 431.65,426.77 428.35,426.77"/>
<polygon fill="#1f6b3a" points="451,423.77 452.65,426.77 449.35,426.77"/>
<polyline fill="none" stroke="#0a0a0a" stroke-width="1.3" points="361.6,425.5 365.6,425.5 373.6,425.5 377.7,413.3 389.8,425.5 406.2,425.5 418.9,425.5 430,425.5 435.6,425.5"/>
<polyline fill="none" stroke="#0a0a0a" stroke-width="1.3" points="445.2,425.5 451,425.5 452.4,425.5"/>
<polygon fill="#0a0a0a" points="361.6,422.28 364.82,425.5 361.6,428.72 358.38,425.5"/>
<polygon fill="#0a0a0a" points="365.6,422.28 368.82,425.5 365.6,428.72 362.38,425.5"/>
<polygon fill="#0a0a0a" points="373.6,422.28 376.82,425.5 373.6,428.72 370.38,425.5"/>
<polygon fill="#0a0a0a" points="377.7,410.08 380.92,413.3 377.7,416.52 374.48,413.3"/>
<polygon fill="#0a0a0a" points="389.8,422.28 393.02,425.5 389.8,428.72 386.58,425.5"/>
<polygon fill="#0a0a0a" points="406.2,422.28 409.42,425.5 406.2,428.72 402.98,425.5"/>
<polygon fill="#0a0a0a" points="418.9,422.28 422.12,425.5 418.9,428.72 415.68,425.5"/>
<polygon fill="#0a0a0a" points="430,422.28 433.22,425.5 430,428.72 426.78,425.5"/>
<polygon fill="#0a0a0a" points="451,422.28 454.22,425.5 451,428.72 447.78,425.5"/>
<polyline fill="none" stroke="#9a8a3c" stroke-width="1" points="361.6,425.5 365.6,425.5 373.6,425.5 377.7,425.5 389.8,425.5 406.2,425.5 418.9,425.5 430,425.5 435.6,425.5"/>
<polyline fill="none" stroke="#9a8a3c" stroke-width="1" points="445.2,425.5 451,425.5 452.4,425.5"/>
<circle cx="361.6" cy="425.5" r="2.9" fill="#9a8a3c"/>
<circle cx="365.6" cy="425.5" r="2.9" fill="#9a8a3c"/>
<circle cx="373.6" cy="425.5" r="2.9" fill="#9a8a3c"/>
<circle cx="377.7" cy="425.5" r="2.9" fill="#9a8a3c"/>
<circle cx="389.8" cy="425.5" r="2.9" fill="#9a8a3c"/>
<circle cx="406.2" cy="425.5" r="2.9" fill="#9a8a3c"/>
<circle cx="418.9" cy="425.5" r="2.9" fill="#9a8a3c"/>
<circle cx="430" cy="425.5" r="2.9" fill="#9a8a3c"/>
<circle cx="451" cy="425.5" r="2.9" fill="#9a8a3c"/>
<polyline fill="none" stroke="#74746a" stroke-width="1.1" points="361.6,425.5 365.6,425.5 373.6,425.5 377.7,425.5 389.8,425.5 406.2,425.5 418.9,425.5 430,425.5 435.6,425.5"/>
<polyline fill="none" stroke="#74746a" stroke-width="1.1" points="445.2,425.5 451,425.5 452.4,425.5"/>
<polygon fill="#111" points="361.6,423.82 362.01,424.93 363.2,424.98 362.27,425.72 362.59,426.86 361.6,426.2 360.61,426.86 360.93,425.72 360,424.98 361.19,424.93"/>
<polygon fill="#111" points="365.6,423.82 366.01,424.93 367.2,424.98 366.27,425.72 366.59,426.86 365.6,426.2 364.61,426.86 364.93,425.72 364,424.98 365.19,424.93"/>
<polygon fill="#111" points="373.6,423.82 374.01,424.93 375.2,424.98 374.27,425.72 374.59,426.86 373.6,426.2 372.61,426.86 372.93,425.72 372,424.98 373.19,424.93"/>
<polygon fill="#111" points="377.7,423.82 378.11,424.93 379.3,424.98 378.37,425.72 378.69,426.86 377.7,426.2 376.71,426.86 377.03,425.72 376.1,424.98 377.29,424.93"/>
<polygon fill="#111" points="389.8,423.82 390.21,424.93 391.4,424.98 390.47,425.72 390.79,426.86 389.8,426.2 388.81,426.86 389.13,425.72 388.2,424.98 389.39,424.93"/>
<polygon fill="#111" points="406.2,423.82 406.61,424.93 407.8,424.98 406.87,425.72 407.19,426.86 406.2,426.2 405.21,426.86 405.53,425.72 404.6,424.98 405.79,424.93"/>
<polygon fill="#111" points="418.9,423.82 419.31,424.93 420.5,424.98 419.57,425.72 419.89,426.86 418.9,426.2 417.91,426.86 418.23,425.72 417.3,424.98 418.49,424.93"/>
<polygon fill="#111" points="430,423.82 430.41,424.93 431.6,424.98 430.67,425.72 430.99,426.86 430,426.2 429.01,426.86 429.33,425.72 428.4,424.98 429.59,424.93"/>
<polygon fill="#111" points="451,423.82 451.41,424.93 452.6,424.98 451.67,425.72 451.99,426.86 451,426.2 450.01,426.86 450.33,425.72 449.4,424.98 450.59,424.93"/>
<line x1="476.4" y1="381.6" x2="483.6" y2="381.6" stroke="#2b3a9a" stroke-width="0.9"/>
<circle cx="480" cy="381.6" r="2" fill="#2b3a9a"/>
<text x="487" y="383.8" font-size="6.1" text-anchor="start" transform="rotate(#0a0a0a 487 383.8)" fill="0.2">IL-2</text>
<line x1="476.4" y1="388.86" x2="483.6" y2="388.86" stroke="#e0213a" stroke-width="0.9"/>
<circle cx="480" cy="388.86" r="2.2" fill="#e0213a"/>
<text x="487" y="391.06" font-size="6.1" text-anchor="start" transform="rotate(#0a0a0a 487 391.06)" fill="0.2">IL-4</text>
<line x1="476.4" y1="396.11" x2="483.6" y2="396.11" stroke="#1f6b3a" stroke-width="0.9"/>
<polygon fill="#1f6b3a" points="480,393.47 480.65,395.22 482.51,395.29 481.05,396.45 481.55,398.25 480,397.21 478.45,398.25 478.95,396.45 477.49,395.29 479.35,395.22"/>
<text x="487" y="398.31" font-size="6.1" text-anchor="start" transform="rotate(#0a0a0a 487 398.31)" fill="0.2">IL-6</text>
<line x1="476.4" y1="403.37" x2="483.6" y2="403.37" stroke="#e09a50" stroke-width="0.9"/>
<polygon fill="#e09a50" points="480,400.97 480.59,402.56 482.28,402.62 480.95,403.67 481.41,405.31 480,404.37 478.59,405.31 479.05,403.67 477.72,402.62 479.41,402.56"/>
<text x="487" y="405.56" font-size="6.1" text-anchor="start" transform="rotate(#0a0a0a 487 405.56)" fill="0.2">IL-7</text>
<line x1="476.4" y1="410.62" x2="483.6" y2="410.62" stroke="#5b9bdc" stroke-width="0.9"/>
<polygon fill="#5b9bdc" points="480,408.44 482.19,410.62 480,412.81 477.81,410.62"/>
<text x="487" y="412.82" font-size="6.1" text-anchor="start" transform="rotate(#0a0a0a 487 412.82)" fill="0.2">IL-10</text>
<line x1="476.4" y1="417.88" x2="483.6" y2="417.88" stroke="#c3c335" stroke-width="0.9"/>
<circle cx="480" cy="417.88" r="3" fill="#c3c335"/>
<text x="487" y="420.07" font-size="6.1" text-anchor="start" transform="rotate(#0a0a0a 487 420.07)" fill="0.2">IL-12</text>
<line x1="476.4" y1="425.13" x2="483.6" y2="425.13" stroke="#c2a04e" stroke-width="0.9"/>
<rect x="477.1" y="422.23" width="5.8" height="5.8" fill="#c2a04e"/>
<text x="487" y="427.33" font-size="6.1" text-anchor="start" transform="rotate(#0a0a0a 487 427.33)" fill="0.2">IL-15</text>
<line x1="476.4" y1="432.38" x2="483.6" y2="432.38" stroke="#fff200" stroke-width="0.9"/>
<polygon fill="#fff200" points="480,428.01 484.18,435.62 475.82,435.62"/>
<text x="487" y="434.58" font-size="6.1" text-anchor="start" transform="rotate(#0a0a0a 487 434.58)" fill="0.2">IL-17</text>
<line x1="476.4" y1="439.64" x2="483.6" y2="439.64" stroke="#ee6a94" stroke-width="0.9"/>
<polygon fill="#ee6a94" points="480,443.44 483.63,436.84 476.37,436.84"/>
<text x="487" y="441.84" font-size="6.1" text-anchor="start" transform="rotate(#0a0a0a 487 441.84)" fill="0.2">IL-21</text>
<line x1="476.4" y1="446.9" x2="483.6" y2="446.9" stroke="#0a0a0a" stroke-width="0.9"/>
<polygon fill="#0a0a0a" points="480,442.64 484.25,446.9 480,451.15 475.75,446.9"/>
<text x="487" y="449.1" font-size="6.1" text-anchor="start" transform="rotate(#0a0a0a 487 449.1)" fill="0.2">IFN-gamma</text>
<line x1="476.4" y1="454.15" x2="483.6" y2="454.15" stroke="#9a8a3c" stroke-width="0.9"/>
<circle cx="480" cy="454.15" r="3.4" fill="#9a8a3c"/>
<text x="487" y="456.35" font-size="6.1" text-anchor="start" transform="rotate(#0a0a0a 487 456.35)" fill="0.2">TNF alpha</text>
<line x1="476.4" y1="461.41" x2="483.6" y2="461.41" stroke="#888" stroke-width="0.8"/>
<polygon fill="#111" points="480,459.61 480.44,460.8 481.71,460.85 480.71,461.64 481.06,462.86 480,462.16 478.94,462.86 479.29,461.64 478.29,460.85 479.56,460.8"/>
<text x="487" y="463.61" font-size="6.1" text-anchor="start" transform="rotate(#0a0a0a 487 463.61)" fill="0.2">MIP-1 alpha</text>
</g>
</svg>
</body></html>
